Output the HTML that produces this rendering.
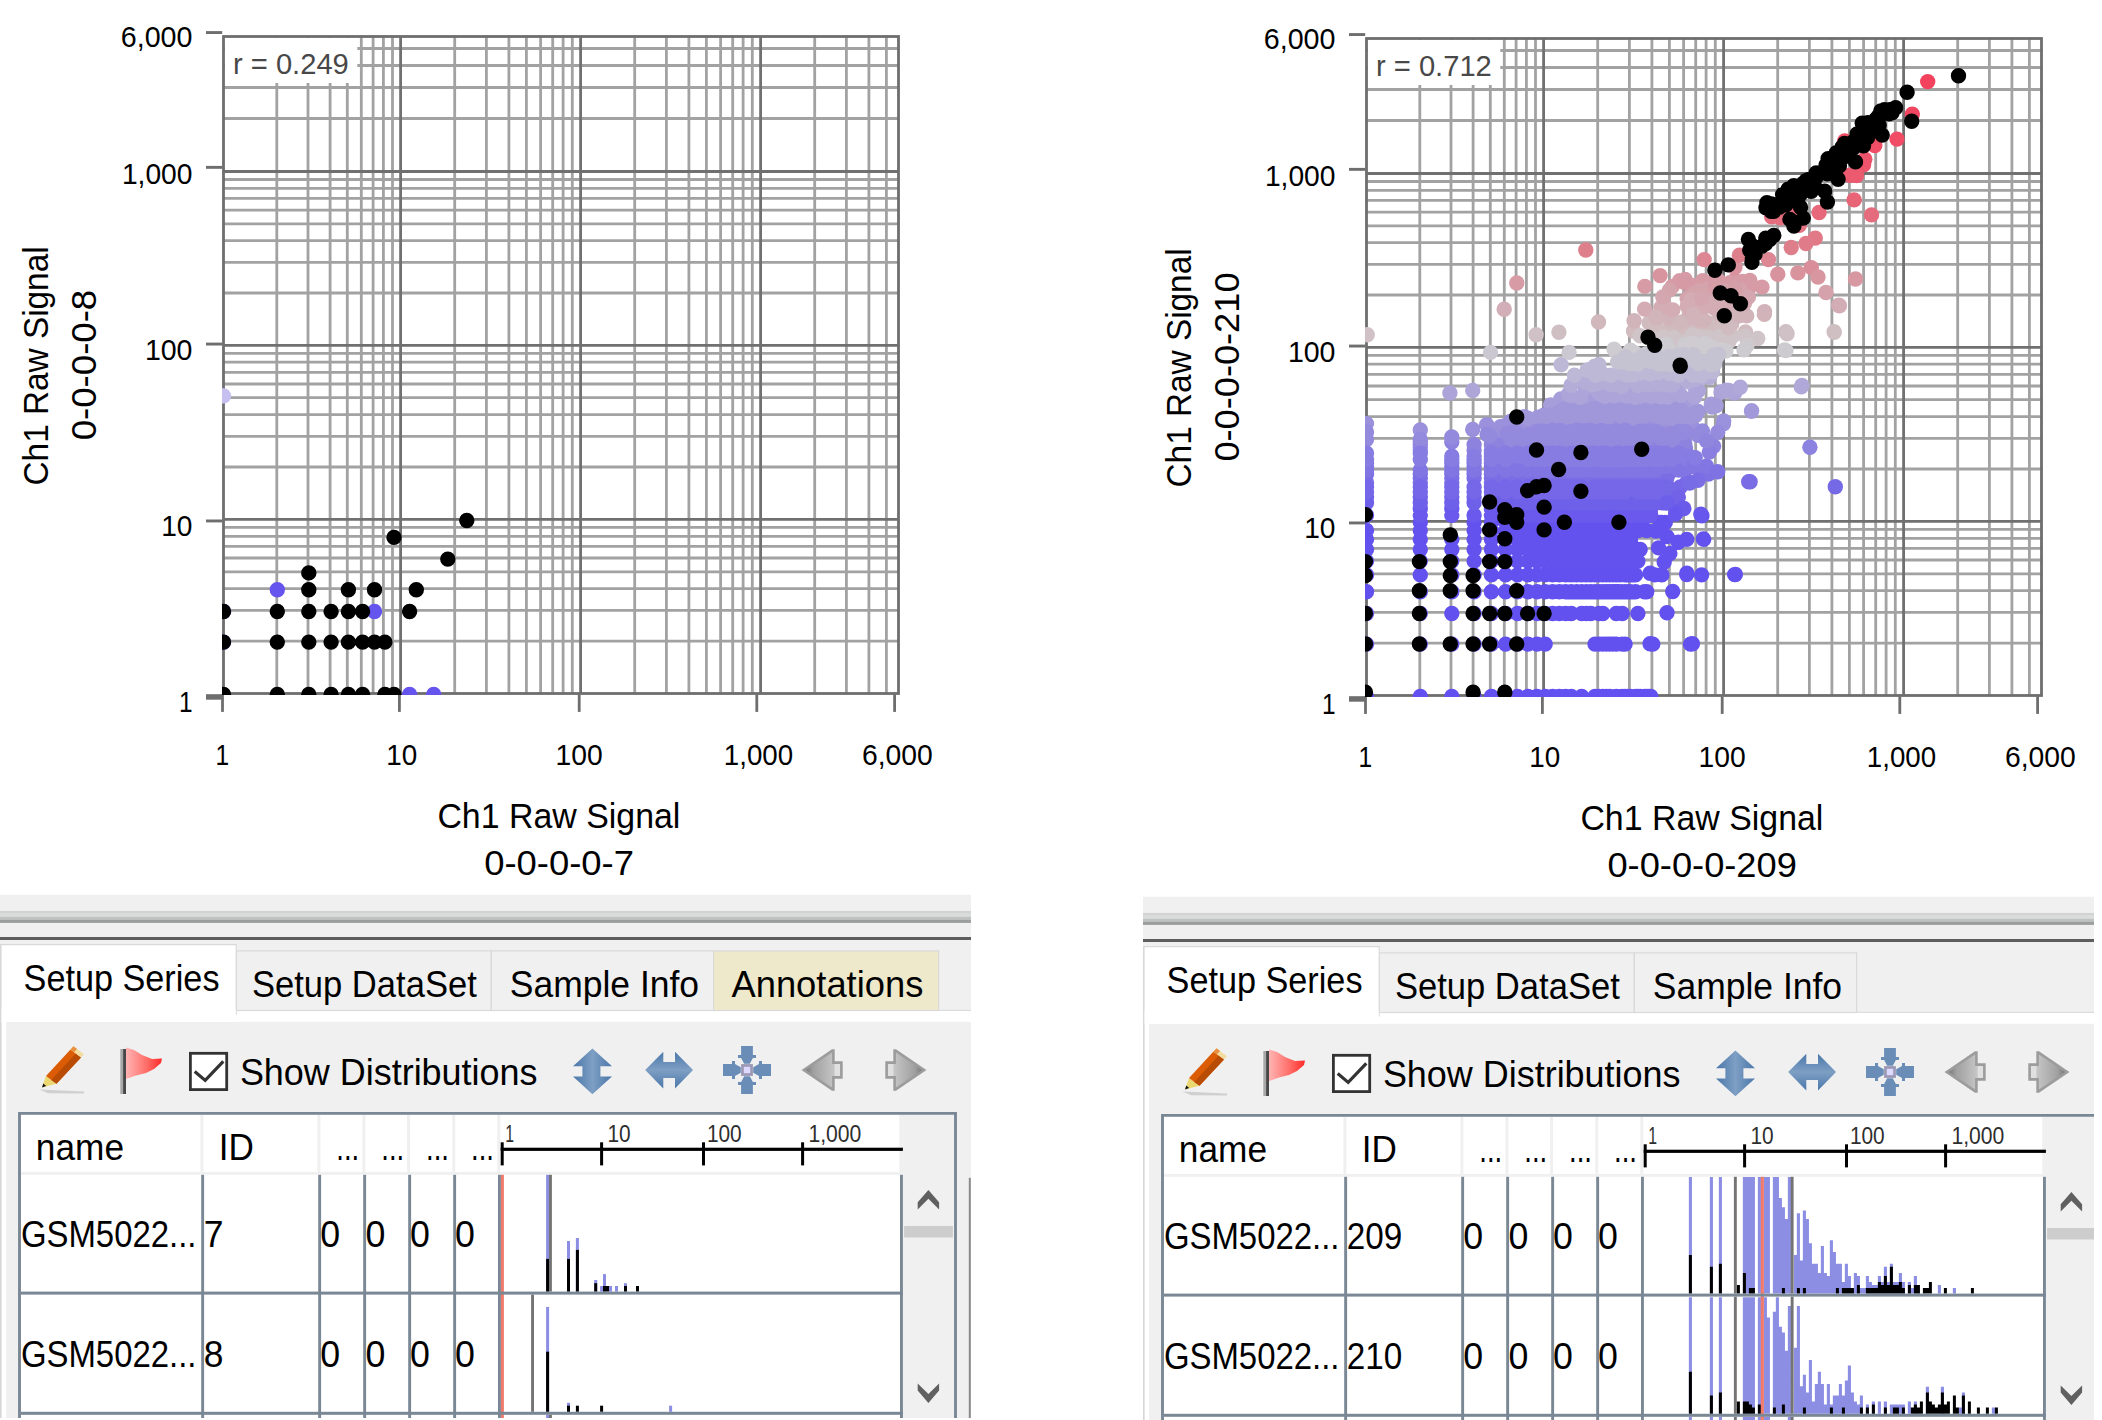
<!DOCTYPE html>
<html><head><meta charset="utf-8"><title>scatter</title>
<style>html,body{margin:0;padding:0;background:#fff}svg{display:block}text{font-family:"Liberation Sans",sans-serif}</style></head><body>
<svg width="2102" height="1420" viewBox="0 0 2102 1420">
<defs><clipPath id="pc"><rect x="222.1" y="35.1" width="677.8" height="659.8"/></clipPath><clipPath id="lc"><rect x="0" y="0" width="971" height="1418"/></clipPath><clipPath id="rc"><rect x="0" y="0" width="951" height="1418"/></clipPath></defs>
<rect x="0" y="0" width="2102" height="1420" fill="#fff"/>
<g clip-path="url(#lc)">
<path d="M276.8 36.5V693.5M223.5 641.1H898.5M308 36.5V693.5M223.5 610.4H898.5M330.1 36.5V693.5M223.5 588.7H898.5M347.3 36.5V693.5M223.5 571.8H898.5M361.3 36.5V693.5M223.5 558H898.5M373.1 36.5V693.5M223.5 546.4H898.5M383.4 36.5V693.5M223.5 536.3H898.5M392.5 36.5V693.5M223.5 527.4H898.5M454.7 36.5V693.5M223.5 467H898.5M486.4 36.5V693.5M223.5 436.4H898.5M508.9 36.5V693.5M223.5 414.6H898.5M526.4 36.5V693.5M223.5 397.7H898.5M540.6 36.5V693.5M223.5 384H898.5M552.7 36.5V693.5M223.5 372.3H898.5M563.1 36.5V693.5M223.5 362.2H898.5M572.3 36.5V693.5M223.5 353.3H898.5M634.7 36.5V693.5M223.5 293H898.5M666.4 36.5V693.5M223.5 262.4H898.5M688.9 36.5V693.5M223.5 240.7H898.5M706.4 36.5V693.5M223.5 223.8H898.5M720.6 36.5V693.5M223.5 210.1H898.5M732.7 36.5V693.5M223.5 198.4H898.5M743.1 36.5V693.5M223.5 188.3H898.5M752.3 36.5V693.5M223.5 179.5H898.5M814.7 36.5V693.5M223.5 118.5H898.5M846.4 36.5V693.5M223.5 87.5H898.5M868.9 36.5V693.5M223.5 65.5H898.5M886.4 36.5V693.5M223.5 48.5H898.5" stroke="#a2a2a2" stroke-width="2.8" fill="none"/>
<path d="M400.6 36.5V693.5M223.5 519.4H898.5M580.6 36.5V693.5M223.5 345.4H898.5M760.6 36.5V693.5M223.5 171.5H898.5" stroke="#707070" stroke-width="2.8" fill="none"/>
<rect x="225" y="38" width="132.3" height="45" fill="#fff"/>
<text x="233" y="73.8" font-size="29" text-anchor="start" fill="#484848" textLength="115.8" lengthAdjust="spacingAndGlyphs">r = 0.249</text>
<rect x="223.5" y="36.5" width="675" height="657" fill="none" stroke="#6e6e6e" stroke-width="2.8"/>
<rect x="206" y="31.1" width="16.2" height="2.9" fill="#6e6e6e"/>
<rect x="206" y="165.9" width="16.2" height="2.9" fill="#6e6e6e"/>
<rect x="206" y="342.6" width="16.2" height="2.9" fill="#6e6e6e"/>
<rect x="206" y="519.5" width="16.2" height="2.9" fill="#6e6e6e"/>
<rect x="206" y="694.2" width="16.2" height="5.5" fill="#6e6e6e"/>
<rect x="221.1" y="694.5" width="2.8" height="17.4" fill="#6e6e6e"/>
<rect x="398" y="694.5" width="2.8" height="17.4" fill="#6e6e6e"/>
<rect x="577.8" y="694.5" width="2.8" height="17.4" fill="#6e6e6e"/>
<rect x="755.4" y="694.5" width="2.8" height="17.4" fill="#6e6e6e"/>
<rect x="893.2" y="694.5" width="2.8" height="17.4" fill="#6e6e6e"/>
<text x="192.5" y="47.4" font-size="30" text-anchor="end" fill="#000" textLength="71.7" lengthAdjust="spacingAndGlyphs">6,000</text>
<text x="192.5" y="184" font-size="30" text-anchor="end" fill="#000" textLength="70.6" lengthAdjust="spacingAndGlyphs">1,000</text>
<text x="192.5" y="359.8" font-size="30" text-anchor="end" fill="#000" textLength="47.6" lengthAdjust="spacingAndGlyphs">100</text>
<text x="192.5" y="535.8" font-size="30" text-anchor="end" fill="#000" textLength="31.3" lengthAdjust="spacingAndGlyphs">10</text>
<text x="192.5" y="711.9" font-size="30" text-anchor="end" fill="#000" textLength="13.6" lengthAdjust="spacingAndGlyphs">1</text>
<text x="215.4" y="765.2" font-size="30" text-anchor="start" fill="#000" textLength="13.6" lengthAdjust="spacingAndGlyphs">1</text>
<text x="386.2" y="765.2" font-size="30" text-anchor="start" fill="#000" textLength="31" lengthAdjust="spacingAndGlyphs">10</text>
<text x="555.6" y="765.2" font-size="30" text-anchor="start" fill="#000" textLength="47.2" lengthAdjust="spacingAndGlyphs">100</text>
<text x="723.8" y="765.2" font-size="30" text-anchor="start" fill="#000" textLength="69.3" lengthAdjust="spacingAndGlyphs">1,000</text>
<text x="862" y="765.2" font-size="30" text-anchor="start" fill="#000" textLength="70.8" lengthAdjust="spacingAndGlyphs">6,000</text>
<text x="437.4" y="827.7" font-size="35.5" text-anchor="start" fill="#000" textLength="243" lengthAdjust="spacingAndGlyphs">Ch1 Raw Signal</text>
<text x="484.2" y="875.2" font-size="35.5" text-anchor="start" fill="#000" textLength="149.8" lengthAdjust="spacingAndGlyphs">0-0-0-0-7</text>
<g transform="translate(47.5 365.8) rotate(-90)"><text x="-119.7" y="0" font-size="35.5" text-anchor="start" fill="#000" textLength="239.1" lengthAdjust="spacingAndGlyphs">Ch1 Raw Signal</text></g>
<g transform="translate(95.8 364.9) rotate(-90)"><text x="-75.4" y="0" font-size="35.5" text-anchor="start" fill="#000" textLength="150.5" lengthAdjust="spacingAndGlyphs">0-0-0-0-8</text></g>
<g clip-path="url(#pc)"><g fill="none" stroke-linecap="round" stroke-width="15.4"><path d="M223.5 395.9h0" stroke="#c6c0f0"/><path d="M277.3 589.7h0M374.5 611.5h0M409.6 694.5h0M433.7 694.5h0M223.5 642.1h0M223.5 611.5h0" stroke="#6654ee"/><path d="M223.5 694.5h0M277.3 694.5h0M308.8 694.5h0M331.1 694.5h0M348.4 694.5h0M362.6 694.5h0M384.9 694.5h0M394 694.5h0M223.5 642.1h0M277.3 642.1h0M308.8 642.1h0M331.1 642.1h0M348.4 642.1h0M362.6 642.1h0M374.5 642.1h0M384.9 642.1h0M223.5 611.5h0M277.3 611.5h0M308.8 611.5h0M331.1 611.5h0M348.4 611.5h0M362.6 611.5h0M409.6 611.5h0M308.8 589.7h0M348.4 589.7h0M374.5 589.7h0M416.3 589.7h0M308.8 572.9h0M394 537.4h0M447.8 559.1h0M466.8 520.5h0" stroke="#000"/></g></g>
<rect x="0" y="894.7" width="971" height="525.3" fill="#f0f0f0"/>
<rect x="0" y="910.9" width="971" height="2.8" fill="#d2d2d2"/>
<rect x="0" y="913.6" width="971" height="3.4" fill="#dadcdc"/>
<rect x="0" y="916.9" width="971" height="3" fill="#c0c2c2"/>
<rect x="0" y="919.8" width="971" height="3.1" fill="#9c9e9e"/>
<rect x="0" y="937" width="971" height="3" fill="#5e5e5e"/>
<rect x="0" y="1010.5" width="971" height="11.3" fill="#fff"/>
<rect x="0" y="1010.5" width="6.1" height="409.5" fill="#fff"/>
<rect x="0" y="944.2" width="1.6" height="475.8" fill="#d6d6d6"/>
<rect x="236.2" y="1009.8" width="734.8" height="1.1" fill="#d9d9d9"/>
<rect x="236.2" y="950.9" width="255.1" height="59.6" fill="#f0f0f0" stroke="#d9d9d9" stroke-width="1.2"/>
<text x="251.9" y="997.4" font-size="36" text-anchor="start" fill="#000" textLength="224.9" lengthAdjust="spacingAndGlyphs">Setup DataSet</text>
<rect x="491.3" y="950.9" width="222.3" height="59.6" fill="#f0f0f0" stroke="#d9d9d9" stroke-width="1.2"/>
<text x="509.8" y="997.4" font-size="36" text-anchor="start" fill="#000" textLength="189.3" lengthAdjust="spacingAndGlyphs">Sample Info</text>
<rect x="713.6" y="950.9" width="225.1" height="59.6" fill="#efe9cb" stroke="#d9d9d9" stroke-width="1.2"/>
<text x="731.5" y="997.4" font-size="36" text-anchor="start" fill="#000" textLength="191.8" lengthAdjust="spacingAndGlyphs">Annotations</text>
<path d="M1 1022V944.6H236.2V1014.5" fill="#fff" stroke="#d9d9d9" stroke-width="1.2"/>
<rect x="1.6" y="1009" width="234" height="13" fill="#fff"/>
<text x="23.6" y="991.3" font-size="36" text-anchor="start" fill="#000" textLength="195.9" lengthAdjust="spacingAndGlyphs">Setup Series</text>
<rect x="968.8" y="1177.8" width="2" height="242.2" fill="#8a8a8a"/>
<g><path d="M39.5 1089.5L84 1091.5L84 1093.5L48 1093.2Z" fill="#c8c8c8" opacity=".8"/><path d="M42 1087.5L46 1076L56.5 1083.8Z" fill="#ecd870"/><path d="M42 1087.5L43.3 1083.6L46.2 1086Z" fill="#111"/><path d="M46 1076L70.5 1049.5L81 1057.5L56.5 1083.8Z" fill="#dc5c06"/><path d="M51.2 1080L75.8 1053.5L81 1057.5L56.5 1083.8Z" fill="#b84c04"/><path d="M70.5 1049.5L73.5 1046.2L84 1054.2L81 1057.5Z" fill="#f2dca0"/><path d="M70.5 1049.5L73.5 1046.2L77 1048.9L74 1052.2Z" fill="#e89040"/></g>
<defs><linearGradient id="fg" x1="0" x2="1" y1="0" y2="0"><stop offset="0" stop-color="#ffb4b4"/><stop offset=".6" stop-color="#ff6a64"/><stop offset="1" stop-color="#fb2a2a"/></linearGradient></defs>
<rect x="120.3" y="1049" width="2.8" height="45" fill="#a8a8a8"/>
<rect x="123.1" y="1049" width="2.9" height="45" fill="#484848"/>
<path d="M126 1047.5L134 1050L142 1055L152 1059L162 1058.5L161 1063L154 1069L146 1073L136 1075.5L126 1079Z" fill="url(#fg)"/>
<rect x="190.4" y="1053.3" width="36.3" height="36.3" fill="#fff" stroke="#333" stroke-width="2.8"/>
<path d="M194.7 1071.5L205.2 1080.4L223.3 1061.4" fill="none" stroke="#333" stroke-width="3.2"/>
<text x="239.9" y="1085.2" font-size="37" text-anchor="start" fill="#000" textLength="297.6" lengthAdjust="spacingAndGlyphs">Show Distributions</text>
<defs><linearGradient id="bg1" x1="0" x2="1" y1="0" y2="0"><stop offset="0" stop-color="#4a77aa"/><stop offset=".5" stop-color="#7e9fc4"/><stop offset="1" stop-color="#4a77aa"/></linearGradient><linearGradient id="bg2" x1="0" x2="0" y1="0" y2="1"><stop offset="0" stop-color="#4a77aa"/><stop offset=".5" stop-color="#7e9fc4"/><stop offset="1" stop-color="#4a77aa"/></linearGradient><linearGradient id="gl" x1="0" x2="1" y1="0" y2="0"><stop offset="0" stop-color="#6c6c6c"/><stop offset=".25" stop-color="#a0a0a0"/><stop offset="1" stop-color="#d2d2d2"/></linearGradient><linearGradient id="gr" x1="1" x2="0" y1="0" y2="0"><stop offset="0" stop-color="#6c6c6c"/><stop offset=".25" stop-color="#a0a0a0"/><stop offset="1" stop-color="#d2d2d2"/></linearGradient></defs>
<path d="M592.4 1048.6L612 1066.2L600.4 1066.2L600.4 1076.6L612 1076.6L592.4 1094.2L573 1076.6L582.4 1076.6L582.4 1066.2L573 1066.2Z" fill="url(#bg1)"/>
<path d="M645.2 1070.1L663.3 1051.8L663.3 1062L675 1062L675 1051.8L693 1070.1L675 1088.4L675 1078L663.3 1078L663.3 1088.4Z" fill="url(#bg2)"/>
<path d="M-5.9 -24L5.9 -24L5.9 -15L9 -15L9 -12L5.9 -12L2.8 -6.2L-2.8 -6.2L-5.9 -12L-9 -12L-9 -15L-5.9 -15Z" transform="translate(747 1070) rotate(0)" fill="#6a8db8"/>
<path d="M-5.9 -24L5.9 -24L5.9 -15L9 -15L9 -12L5.9 -12L2.8 -6.2L-2.8 -6.2L-5.9 -12L-9 -12L-9 -15L-5.9 -15Z" transform="translate(747 1070) rotate(90)" fill="#6a8db8"/>
<path d="M-5.9 -24L5.9 -24L5.9 -15L9 -15L9 -12L5.9 -12L2.8 -6.2L-2.8 -6.2L-5.9 -12L-9 -12L-9 -15L-5.9 -15Z" transform="translate(747 1070) rotate(180)" fill="#6a8db8"/>
<path d="M-5.9 -24L5.9 -24L5.9 -15L9 -15L9 -12L5.9 -12L2.8 -6.2L-2.8 -6.2L-5.9 -12L-9 -12L-9 -15L-5.9 -15Z" transform="translate(747 1070) rotate(270)" fill="#6a8db8"/>
<rect x="741.1" y="1064.1" width="11.8" height="11.8" fill="#9c98b4"/>
<rect x="743.8" y="1066.8" width="6.4" height="6.4" fill="#dedaff"/>
<path d="M803.8 1070L832.4 1050.6L833.4 1050.6L833.4 1062.6L841.4 1062.6L841.4 1077.4L833.4 1077.4L833.4 1089.4L832.4 1089.4Z" fill="url(#gl)" stroke="#9c9c9c" stroke-width="2.6" stroke-linejoin="miter"/>
<rect x="834.6" y="1064" width="5.4" height="12" fill="#e0e0e0"/>
<path d="M924.2 1070L895.6 1050.6L894.6 1050.6L894.6 1062.6L886.6 1062.6L886.6 1077.4L894.6 1077.4L894.6 1089.4L895.6 1089.4Z" fill="url(#gr)" stroke="#9c9c9c" stroke-width="2.6" stroke-linejoin="miter"/>
<rect x="888" y="1064" width="5.4" height="12" fill="#e0e0e0"/>
<rect x="21" y="1114.7" width="878.3" height="57.2" fill="#fff"/>
<rect x="21" y="1174.8" width="881.9" height="245.2" fill="#fff"/>
<rect x="200.4" y="1114.7" width="3" height="57.2" fill="#f0f0f0"/>
<rect x="317.4" y="1114.7" width="3" height="57.2" fill="#f0f0f0"/>
<rect x="362.4" y="1114.7" width="3" height="57.2" fill="#f0f0f0"/>
<rect x="407.1" y="1114.7" width="3" height="57.2" fill="#f0f0f0"/>
<rect x="452.3" y="1114.7" width="3" height="57.2" fill="#f0f0f0"/>
<rect x="497.3" y="1114.7" width="3" height="57.2" fill="#f0f0f0"/>
<rect x="546.1" y="1174.8" width="3" height="116.8" fill="#8c8ee4"/><rect x="546.1" y="1258.9" width="3" height="32.7" fill="#000"/><rect x="567" y="1241" width="3" height="50.6" fill="#8c8ee4"/><rect x="567" y="1258.9" width="3" height="32.7" fill="#000"/><rect x="575.9" y="1238" width="3" height="53.6" fill="#8c8ee4"/><rect x="575.9" y="1249.9" width="3" height="41.7" fill="#000"/><rect x="594.2" y="1280" width="3" height="11.6" fill="#8c8ee4"/><rect x="594.2" y="1283.2" width="3" height="8.4" fill="#000"/><rect x="600.1" y="1286" width="3" height="5.6" fill="#8c8ee4"/><rect x="603" y="1274.1" width="3" height="17.5" fill="#8c8ee4"/><rect x="603" y="1286" width="3" height="5.6" fill="#000"/><rect x="606" y="1286" width="3" height="5.6" fill="#000"/><rect x="609" y="1286" width="3" height="5.6" fill="#8c8ee4"/><rect x="615" y="1286" width="3" height="5.6" fill="#8c8ee4"/><rect x="624" y="1283.2" width="3" height="8.4" fill="#8c8ee4"/><rect x="624" y="1286" width="3" height="5.6" fill="#000"/><rect x="636" y="1286" width="3" height="5.6" fill="#000"/><rect x="549" y="1174.8" width="2.9" height="116.8" fill="#747474"/><rect x="546.1" y="1306.9" width="3" height="104.9" fill="#8c8ee4"/><rect x="546.1" y="1351.7" width="3" height="60.1" fill="#000"/><rect x="567" y="1402.8" width="3" height="9" fill="#8c8ee4"/><rect x="567" y="1405.7" width="3" height="6.1" fill="#000"/><rect x="575.9" y="1405.7" width="3" height="6.1" fill="#000"/><rect x="600.1" y="1405.7" width="3" height="6.1" fill="#000"/><rect x="669.1" y="1405.7" width="3" height="6.1" fill="#8c8ee4"/><rect x="531.1" y="1294.6" width="2.9" height="117.2" fill="#747474"/><rect x="546.1" y="1414.8" width="3" height="5.2" fill="#8c8ee4"/><rect x="549" y="1414.8" width="2.9" height="5.2" fill="#747474"/>
<rect x="500.8" y="1174.8" width="3.1" height="245.2" fill="#f07a6c"/>
<rect x="201.2" y="1174.8" width="2.9" height="245.2" fill="#7a8795"/>
<rect x="318.2" y="1174.8" width="2.9" height="245.2" fill="#7a8795"/>
<rect x="363.2" y="1174.8" width="2.9" height="245.2" fill="#7a8795"/>
<rect x="408.2" y="1174.8" width="2.9" height="245.2" fill="#7a8795"/>
<rect x="453.2" y="1174.8" width="2.9" height="245.2" fill="#7a8795"/>
<rect x="498" y="1174.8" width="2.9" height="245.2" fill="#7a8795"/>
<rect x="900" y="1174.8" width="2.9" height="245.2" fill="#7a8795"/>
<rect x="21" y="1291.6" width="881.9" height="3" fill="#7a8795"/>
<rect x="21" y="1411.8" width="881.9" height="3" fill="#7a8795"/>
<path d="M19.5 1420V1113.4H955.5V1420" fill="none" stroke="#7a8795" stroke-width="2.9"/>
<text x="35.8" y="1160" font-size="36" text-anchor="start" fill="#000" textLength="88.2" lengthAdjust="spacingAndGlyphs">name</text>
<text x="218.8" y="1160" font-size="36" text-anchor="start" fill="#000" textLength="35.1" lengthAdjust="spacingAndGlyphs">ID</text>
<text x="336.3" y="1160" font-size="36" text-anchor="start" fill="#000" textLength="22.9" lengthAdjust="spacingAndGlyphs">...</text>
<text x="381.3" y="1160" font-size="36" text-anchor="start" fill="#000" textLength="22.9" lengthAdjust="spacingAndGlyphs">...</text>
<text x="426.1" y="1160" font-size="36" text-anchor="start" fill="#000" textLength="22.9" lengthAdjust="spacingAndGlyphs">...</text>
<text x="471.1" y="1160" font-size="36" text-anchor="start" fill="#000" textLength="22.9" lengthAdjust="spacingAndGlyphs">...</text>
<rect x="500.7" y="1147.7" width="402.2" height="3.2" fill="#000"/>
<rect x="500.7" y="1142.3" width="3" height="23.1" fill="#000"/>
<rect x="600.1" y="1142.3" width="3" height="23.1" fill="#000"/>
<rect x="702" y="1142.3" width="3" height="23.1" fill="#000"/>
<rect x="801.1" y="1142.3" width="3" height="23.1" fill="#000"/>
<text x="505.2" y="1141.7" font-size="24" text-anchor="start" fill="#2e2e2e" textLength="8.8" lengthAdjust="spacingAndGlyphs">1</text>
<text x="607.4" y="1141.7" font-size="24" text-anchor="start" fill="#2e2e2e" textLength="23.2" lengthAdjust="spacingAndGlyphs">10</text>
<text x="706.9" y="1141.7" font-size="24" text-anchor="start" fill="#2e2e2e" textLength="34.8" lengthAdjust="spacingAndGlyphs">100</text>
<text x="808.4" y="1141.7" font-size="24" text-anchor="start" fill="#2e2e2e" textLength="52.9" lengthAdjust="spacingAndGlyphs">1,000</text>
<text x="20.9" y="1247.3" font-size="36" text-anchor="start" fill="#000" textLength="175.6" lengthAdjust="spacingAndGlyphs">GSM5022...</text>
<text x="203.8" y="1247.3" font-size="36" text-anchor="start" fill="#000" textLength="19.7" lengthAdjust="spacingAndGlyphs">7</text>
<text x="320.2" y="1247.3" font-size="36" text-anchor="start" fill="#000" textLength="19.9" lengthAdjust="spacingAndGlyphs">0</text>
<text x="365.5" y="1247.3" font-size="36" text-anchor="start" fill="#000" textLength="19.9" lengthAdjust="spacingAndGlyphs">0</text>
<text x="410" y="1247.3" font-size="36" text-anchor="start" fill="#000" textLength="19.9" lengthAdjust="spacingAndGlyphs">0</text>
<text x="455.1" y="1247.3" font-size="36" text-anchor="start" fill="#000" textLength="19.9" lengthAdjust="spacingAndGlyphs">0</text>
<text x="20.9" y="1367.4" font-size="36" text-anchor="start" fill="#000" textLength="175.6" lengthAdjust="spacingAndGlyphs">GSM5022...</text>
<text x="203.8" y="1367.4" font-size="36" text-anchor="start" fill="#000" textLength="19.7" lengthAdjust="spacingAndGlyphs">8</text>
<text x="320.2" y="1367.4" font-size="36" text-anchor="start" fill="#000" textLength="19.9" lengthAdjust="spacingAndGlyphs">0</text>
<text x="365.5" y="1367.4" font-size="36" text-anchor="start" fill="#000" textLength="19.9" lengthAdjust="spacingAndGlyphs">0</text>
<text x="410" y="1367.4" font-size="36" text-anchor="start" fill="#000" textLength="19.9" lengthAdjust="spacingAndGlyphs">0</text>
<text x="455.1" y="1367.4" font-size="36" text-anchor="start" fill="#000" textLength="19.9" lengthAdjust="spacingAndGlyphs">0</text>
<path d="M917.7 1209.4V1202.3L928.4 1189.9L939.1 1202.3V1209.4L928.4 1198.7Z" fill="#606060"/>
<rect x="904.1" y="1226" width="48.8" height="11.5" fill="#cdcdcd"/>
<path d="M917.7 1383.5V1390.6L928.4 1402.9L939.1 1390.6V1383.5L928.4 1394.1Z" fill="#606060"/>
</g>
<g transform="translate(1143 2)"><g clip-path="url(#rc)">
<path d="M276.8 36.5V693.5M223.5 641.1H898.5M308 36.5V693.5M223.5 610.4H898.5M330.1 36.5V693.5M223.5 588.7H898.5M347.3 36.5V693.5M223.5 571.8H898.5M361.3 36.5V693.5M223.5 558H898.5M373.1 36.5V693.5M223.5 546.4H898.5M383.4 36.5V693.5M223.5 536.3H898.5M392.5 36.5V693.5M223.5 527.4H898.5M454.7 36.5V693.5M223.5 467H898.5M486.4 36.5V693.5M223.5 436.4H898.5M508.9 36.5V693.5M223.5 414.6H898.5M526.4 36.5V693.5M223.5 397.7H898.5M540.6 36.5V693.5M223.5 384H898.5M552.7 36.5V693.5M223.5 372.3H898.5M563.1 36.5V693.5M223.5 362.2H898.5M572.3 36.5V693.5M223.5 353.3H898.5M634.7 36.5V693.5M223.5 293H898.5M666.4 36.5V693.5M223.5 262.4H898.5M688.9 36.5V693.5M223.5 240.7H898.5M706.4 36.5V693.5M223.5 223.8H898.5M720.6 36.5V693.5M223.5 210.1H898.5M732.7 36.5V693.5M223.5 198.4H898.5M743.1 36.5V693.5M223.5 188.3H898.5M752.3 36.5V693.5M223.5 179.5H898.5M814.7 36.5V693.5M223.5 118.5H898.5M846.4 36.5V693.5M223.5 87.5H898.5M868.9 36.5V693.5M223.5 65.5H898.5M886.4 36.5V693.5M223.5 48.5H898.5" stroke="#a2a2a2" stroke-width="2.8" fill="none"/>
<path d="M400.6 36.5V693.5M223.5 519.4H898.5M580.6 36.5V693.5M223.5 345.4H898.5M760.6 36.5V693.5M223.5 171.5H898.5" stroke="#707070" stroke-width="2.8" fill="none"/>
<rect x="225" y="38" width="132.3" height="45" fill="#fff"/>
<text x="233" y="73.8" font-size="29" text-anchor="start" fill="#484848" textLength="115.8" lengthAdjust="spacingAndGlyphs">r = 0.712</text>
<rect x="223.5" y="36.5" width="675" height="657" fill="none" stroke="#6e6e6e" stroke-width="2.8"/>
<rect x="206" y="31.1" width="16.2" height="2.9" fill="#6e6e6e"/>
<rect x="206" y="165.9" width="16.2" height="2.9" fill="#6e6e6e"/>
<rect x="206" y="342.6" width="16.2" height="2.9" fill="#6e6e6e"/>
<rect x="206" y="519.5" width="16.2" height="2.9" fill="#6e6e6e"/>
<rect x="206" y="694.2" width="16.2" height="5.5" fill="#6e6e6e"/>
<rect x="221.1" y="694.5" width="2.8" height="17.4" fill="#6e6e6e"/>
<rect x="398" y="694.5" width="2.8" height="17.4" fill="#6e6e6e"/>
<rect x="577.8" y="694.5" width="2.8" height="17.4" fill="#6e6e6e"/>
<rect x="755.4" y="694.5" width="2.8" height="17.4" fill="#6e6e6e"/>
<rect x="893.2" y="694.5" width="2.8" height="17.4" fill="#6e6e6e"/>
<text x="192.5" y="47.4" font-size="30" text-anchor="end" fill="#000" textLength="71.7" lengthAdjust="spacingAndGlyphs">6,000</text>
<text x="192.5" y="184" font-size="30" text-anchor="end" fill="#000" textLength="70.6" lengthAdjust="spacingAndGlyphs">1,000</text>
<text x="192.5" y="359.8" font-size="30" text-anchor="end" fill="#000" textLength="47.6" lengthAdjust="spacingAndGlyphs">100</text>
<text x="192.5" y="535.8" font-size="30" text-anchor="end" fill="#000" textLength="31.3" lengthAdjust="spacingAndGlyphs">10</text>
<text x="192.5" y="711.9" font-size="30" text-anchor="end" fill="#000" textLength="13.6" lengthAdjust="spacingAndGlyphs">1</text>
<text x="215.4" y="765.2" font-size="30" text-anchor="start" fill="#000" textLength="13.6" lengthAdjust="spacingAndGlyphs">1</text>
<text x="386.2" y="765.2" font-size="30" text-anchor="start" fill="#000" textLength="31" lengthAdjust="spacingAndGlyphs">10</text>
<text x="555.6" y="765.2" font-size="30" text-anchor="start" fill="#000" textLength="47.2" lengthAdjust="spacingAndGlyphs">100</text>
<text x="723.8" y="765.2" font-size="30" text-anchor="start" fill="#000" textLength="69.3" lengthAdjust="spacingAndGlyphs">1,000</text>
<text x="862" y="765.2" font-size="30" text-anchor="start" fill="#000" textLength="70.8" lengthAdjust="spacingAndGlyphs">6,000</text>
<text x="437.4" y="827.7" font-size="35.5" text-anchor="start" fill="#000" textLength="243" lengthAdjust="spacingAndGlyphs">Ch1 Raw Signal</text>
<text x="464.4" y="875.2" font-size="35.5" text-anchor="start" fill="#000" textLength="189.5" lengthAdjust="spacingAndGlyphs">0-0-0-0-209</text>
<g transform="translate(47.5 365.8) rotate(-90)"><text x="-119.7" y="0" font-size="35.5" text-anchor="start" fill="#000" textLength="239.1" lengthAdjust="spacingAndGlyphs">Ch1 Raw Signal</text></g>
<g transform="translate(95.8 364.9) rotate(-90)"><text x="-94.7" y="0" font-size="35.5" text-anchor="start" fill="#000" textLength="189.1" lengthAdjust="spacingAndGlyphs">0-0-0-0-210</text></g>
<g clip-path="url(#pc)"><g fill="none" stroke-linecap="round" stroke-width="15.4"><path d="M507.8 445.4h0M480 440.8h0M479.3 442.7h0M520.6 439.7h0M452 448.3h0M416.3 448.3h0M484.8 448.3h0M511.7 445.4h0M428.3 448.3h0M441.2 440.5h0M447.8 448.3h0M494.9 448.3h0M438.7 448.3h0M452 445.4h0M466.4 439.4h0M463.4 448.3h0M402.2 445.4h0M422.7 442h0M374.5 445.4h0M459.8 445.4h0M348.4 448.3h0M487.5 445.4h0M465.9 440.8h0M447.8 448.3h0M382.4 440.8h0M476.4 442.7h0M348.4 448.3h0M452 445.4h0M374.5 448.3h0M362.6 448.3h0M452 442.7h0M355.9 440.7h0M416.3 448.3h0M509.4 439h0M422.6 442.7h0M541.7 441.1h0M389.4 439.6h0M402.2 442.7h0M402.2 445.4h0M476.4 448.3h0M490.1 439.5h0M515.4 442.7h0M364.8 439.2h0M433.7 445.4h0M402.2 445.4h0M433.7 445.4h0M443.4 448.3h0M466.8 448.3h0M362.6 448.3h0M394 445.4h0M466.8 448.3h0M479.3 442.7h0M542.5 445.4h0M433.7 448.3h0M413.1 441.2h0M456 442.7h0M443.4 448.3h0M459.8 445.4h0M392.1 442h0M436.5 441.2h0M459.8 448.3h0M402.2 448.3h0M384.9 448.3h0M433.4 440.2h0M433.5 440.3h0M456 442.7h0M492.3 439.5h0M422.6 445.4h0M428.3 445.4h0M466.8 445.4h0M503.7 445.4h0M499.4 442.7h0M433.7 445.4h0M487.5 448.3h0M486.6 442h0M433.7 442.7h0M433.7 448.3h0M513.6 442.7h0M513.6 445.4h0M394 445.4h0M482.1 442.7h0M438.7 445.4h0M348.4 442.7h0M416.3 442.7h0M409.5 441.8h0M525.8 440.2h0M420.4 441.8h0M456 442.7h0M437.3 439.5h0M518.9 442.7h0M428.3 445.4h0M452 442.7h0M384.9 448.3h0M463.4 442.7h0M456 442.7h0M433.7 445.4h0M432.2 440.1h0M384.9 445.4h0M409.6 448.3h0M470.1 445.4h0M497.2 445.4h0M487.5 448.3h0M516.1 441.5h0M384.9 445.4h0M416.3 442.7h0M348.4 448.3h0M455.8 441.4h0M484.8 445.4h0M433.3 442h0M406.3 439.8h0M420.7 440.7h0M421 441h0M447.8 442.7h0M459.8 445.4h0M459.8 448.3h0M394 442.7h0M362.6 445.4h0M513.6 440h0M478.1 439.6h0M463.4 442.7h0M479.3 442.7h0M447.8 448.3h0M374.5 442.7h0M397.6 439.9h0M388.6 440.6h0M482.1 442.7h0M470.1 442.7h0M384.2 439.2h0M428.3 445.4h0M503.6 439.9h0M501.6 445.4h0M362.6 445.4h0M518.9 445.4h0M422.6 448.3h0M497.2 448.3h0M427.5 439.5h0M413.9 441.4h0M488.4 440h0M374.5 442.7h0M438.7 448.3h0M523.9 448.3h0M380.1 439.8h0M490 445.4h0M471.7 439.3h0M428.3 445.4h0M527.1 445.4h0M416.3 448.3h0M513.6 448.3h0M384.9 448.3h0M468.6 441.5h0M508.7 440.6h0M511.7 442.7h0M487.5 442.7h0M416.3 445.4h0M372.2 441.4h0M438.7 442.7h0M503.6 441.1h0M463.4 445.4h0M421.7 442.1h0M447.8 445.4h0M463.4 442.7h0M417.6 442.2h0M501.6 448.3h0M456 442.7h0M398.2 440.9h0M374.5 445.4h0M409.6 445.4h0M422.6 445.4h0M503.7 445.4h0M362.6 445.4h0M528.6 445.4h0M454.1 439.7h0M438.7 442.7h0M409.8 439.1h0M362.6 445.4h0M473.3 445.4h0M428.3 445.4h0M432.7 442.1h0M452 445.4h0M478.4 442h0M466.5 441.2h0M492.5 448.3h0M384.9 445.4h0M371.8 440.5h0M384.9 448.3h0M428.3 445.4h0M448.4 439.3h0M479.3 448.3h0M277.3 445.4h0M331.1 442.7h0M277.3 442.7h0M277.3 440h0M277.3 442.7h0M331.1 448.3h0M277.3 442.7h0M348.4 448.3h0M277.3 448.3h0M277.3 440h0M331.1 448.3h0M277.3 442.7h0M308.8 440h0" stroke="#8d83df"/><path d="M416.3 547.5h0M447.8 528.5h0M484.8 528.5h0M374.5 547.5h0M476.4 537.4h0M466.8 559.1h0M428.3 528.5h0M362.6 559.1h0M470.1 547.5h0M416.3 547.5h0M416.3 520.5h0M466.8 559.1h0M409.6 528.5h0M394 528.5h0M428.3 559.1h0M422.6 559.1h0M438.7 559.1h0M479.3 547.5h0M402.2 520.5h0M479.3 547.5h0M494.9 528.5h0M394 537.4h0M443.4 559.1h0M456 547.5h0M362.6 520.5h0M422.6 528.5h0M422.6 537.4h0M402.2 559.1h0M422.6 559.1h0M416.3 559.1h0M470.1 537.4h0M443.4 547.5h0M416.3 559.1h0M409.6 537.4h0M438.7 537.4h0M422.6 528.5h0M452 520.5h0M476.4 520.5h0M384.9 547.5h0M422.6 537.4h0M438.7 537.4h0M459.8 528.5h0M422.6 537.4h0M422.6 537.4h0M384.9 520.5h0M456 520.5h0M374.5 559.1h0M473.3 559.1h0M384.9 520.5h0M438.7 520.5h0M459.8 547.5h0M384.9 547.5h0M459.8 547.5h0M438.7 520.5h0M394 528.5h0M402.2 547.5h0M438.7 559.1h0M384.9 547.5h0M443.4 559.1h0M422.6 547.5h0M422.6 547.5h0M479.3 537.4h0M433.7 537.4h0M416.3 528.5h0M447.8 559.1h0M409.6 537.4h0M374.5 559.1h0M473.3 547.5h0M438.7 559.1h0M348.4 537.4h0M433.7 528.5h0M374.5 520.5h0M428.3 528.5h0M447.8 559.1h0M438.7 528.5h0M433.7 547.5h0M443.4 547.5h0M402.2 559.1h0M416.3 559.1h0M384.9 537.4h0M433.7 528.5h0M374.5 547.5h0M348.4 559.1h0M409.6 537.4h0M428.3 528.5h0M452 537.4h0M374.5 559.1h0M384.9 528.5h0M374.5 537.4h0M487.5 537.4h0M374.5 559.1h0M463.4 520.5h0M466.8 559.1h0M473.3 559.1h0M374.5 559.1h0M402.2 528.5h0M466.8 520.5h0M374.5 559.1h0M374.5 520.5h0M422.6 520.5h0M463.4 547.5h0M416.3 528.5h0M374.5 559.1h0M402.2 537.4h0M428.3 528.5h0M422.6 528.5h0M402.2 559.1h0M494.9 559.1h0M490 528.5h0M422.6 520.5h0M459.8 528.5h0M452 520.5h0M492.5 559.1h0M422.6 528.5h0M487.5 528.5h0M416.3 528.5h0M416.3 559.1h0M443.4 547.5h0M409.6 520.5h0M456 520.5h0M348.4 528.5h0M402.2 559.1h0M409.6 547.5h0M394 547.5h0M422.6 528.5h0M384.9 547.5h0M409.6 547.5h0M402.2 537.4h0M476.4 547.5h0M384.9 537.4h0M394 520.5h0M459.8 520.5h0M409.6 559.1h0M463.4 537.4h0M484.8 537.4h0M438.7 547.5h0M487.5 520.5h0M384.9 537.4h0M362.6 520.5h0M362.6 537.4h0M482.1 537.4h0M384.9 528.5h0M433.7 528.5h0M402.2 520.5h0M428.3 559.1h0M463.4 547.5h0M331.1 528.5h0M422.6 528.5h0M402.2 537.4h0M428.3 520.5h0M463.4 547.5h0M416.3 520.5h0M452 528.5h0M331.1 547.5h0M422.6 547.5h0M394 547.5h0M443.4 559.1h0M459.8 547.5h0M459.8 547.5h0M422.6 528.5h0M402.2 547.5h0M447.8 528.5h0M490 528.5h0M409.6 547.5h0M452 520.5h0M394 537.4h0M447.8 520.5h0M438.7 537.4h0M479.3 528.5h0M484.8 537.4h0M394 528.5h0M402.2 528.5h0M374.5 537.4h0M433.7 537.4h0M394 547.5h0M479.3 559.1h0M422.6 537.4h0M402.2 528.5h0M433.7 520.5h0M443.4 537.4h0M433.7 520.5h0M428.3 528.5h0M476.4 537.4h0M456 547.5h0M384.9 520.5h0M416.3 537.4h0M416.3 559.1h0M416.3 559.1h0M384.9 528.5h0M438.7 528.5h0M374.5 547.5h0M443.4 528.5h0M422.6 520.5h0M466.8 528.5h0M409.6 559.1h0M433.7 559.1h0M482.1 559.1h0M470.1 520.5h0M409.6 547.5h0M402.2 528.5h0M409.6 559.1h0M433.7 537.4h0M409.6 528.5h0M416.3 528.5h0M466.8 520.5h0M466.8 559.1h0M416.3 520.5h0M482.1 547.5h0M402.2 547.5h0M394 520.5h0M428.3 528.5h0M422.6 547.5h0M438.7 528.5h0M416.3 547.5h0M348.4 537.4h0M438.7 528.5h0M443.4 547.5h0M428.3 537.4h0M331.1 547.5h0M470.1 537.4h0M452 559.1h0M456 547.5h0M466.8 537.4h0M394 537.4h0M374.5 528.5h0M394 559.1h0M409.6 559.1h0M374.5 528.5h0M416.3 528.5h0M394 528.5h0M374.5 520.5h0M384.9 559.1h0M348.4 528.5h0M433.7 559.1h0M443.4 559.1h0M470.1 528.5h0M438.7 559.1h0M443.4 559.1h0M422.6 520.5h0M476.4 528.5h0M409.6 520.5h0M422.6 528.5h0M384.9 547.5h0M394 520.5h0M447.8 528.5h0M422.6 520.5h0M463.4 547.5h0M487.5 537.4h0M374.5 537.4h0M459.8 547.5h0M470.1 547.5h0M428.3 520.5h0M422.6 528.5h0M428.3 520.5h0M459.8 537.4h0M416.3 537.4h0M384.9 559.1h0M428.3 528.5h0M476.4 547.5h0M438.7 520.5h0M402.2 547.5h0M428.3 547.5h0M409.6 528.5h0M348.4 547.5h0M492.5 528.5h0M384.9 520.5h0M452 559.1h0M402.2 559.1h0M466.8 528.5h0M447.8 547.5h0M463.4 528.5h0M374.5 537.4h0M394 520.5h0M447.8 559.1h0M479.3 528.5h0M459.8 547.5h0M384.9 520.5h0M348.4 528.5h0M409.6 559.1h0M422.6 547.5h0M452 528.5h0M416.3 547.5h0M490 559.1h0M384.9 547.5h0M422.6 520.5h0M409.6 520.5h0M433.7 520.5h0M422.6 547.5h0M482.1 537.4h0M409.6 559.1h0M402.2 528.5h0M447.8 559.1h0M394 528.5h0M466.8 520.5h0M428.3 559.1h0M402.2 520.5h0M438.7 547.5h0M433.7 520.5h0M476.4 520.5h0M384.9 520.5h0M402.2 559.1h0M402.2 520.5h0M394 537.4h0M492.5 547.5h0M433.7 528.5h0M348.4 547.5h0M394 528.5h0M466.8 537.4h0M428.3 537.4h0M402.2 547.5h0M374.5 528.5h0M422.6 537.4h0M479.3 547.5h0M463.4 520.5h0M394 559.1h0M452 537.4h0M416.3 547.5h0M452 559.1h0M447.8 537.4h0M438.7 559.1h0M443.4 559.1h0M470.1 520.5h0M374.5 520.5h0M362.6 528.5h0M476.4 547.5h0M470.1 559.1h0M374.5 559.1h0M374.5 520.5h0M374.5 559.1h0M438.7 547.5h0M517.2 520.5h0M459.8 559.1h0M479.3 537.4h0M402.2 528.5h0M394 559.1h0M394 547.5h0M422.6 547.5h0M384.9 547.5h0M456 520.5h0M459.8 528.5h0M433.7 547.5h0M452 547.5h0M428.3 559.1h0M402.2 520.5h0M470.1 520.5h0M482.1 528.5h0M522.3 520.5h0M459.8 559.1h0M402.2 537.4h0M452 559.1h0M518.9 520.5h0M394 559.1h0M438.7 528.5h0M479.3 547.5h0M452 559.1h0M484.8 559.1h0M463.4 547.5h0M503.7 528.5h0M452 559.1h0M394 537.4h0M479.3 537.4h0M422.6 528.5h0M409.6 559.1h0M374.5 547.5h0M438.7 547.5h0M497.2 520.5h0M384.9 547.5h0M409.6 537.4h0M416.3 520.5h0M362.6 520.5h0M433.7 537.4h0M402.2 528.5h0M443.4 559.1h0M402.2 520.5h0M416.3 520.5h0M459.8 520.5h0M394 547.5h0M384.9 547.5h0M479.3 537.4h0M409.6 547.5h0M433.7 520.5h0M422.6 547.5h0M384.9 547.5h0M473.3 528.5h0M362.6 520.5h0M348.4 537.4h0M443.4 528.5h0M463.4 547.5h0M416.3 547.5h0M433.7 528.5h0M433.7 528.5h0M443.4 559.1h0M409.6 528.5h0M422.6 528.5h0M384.9 559.1h0M463.4 547.5h0M487.5 520.5h0M428.3 559.1h0M456 537.4h0M409.6 537.4h0M452 520.5h0M384.9 547.5h0M428.3 547.5h0M433.7 520.5h0M428.3 520.5h0M374.5 520.5h0M473.3 520.5h0M422.6 520.5h0M374.5 520.5h0M433.7 520.5h0M452 537.4h0M422.6 528.5h0M438.7 537.4h0M456 520.5h0M428.3 559.1h0M438.7 547.5h0M456 528.5h0M362.6 559.1h0M394 547.5h0M428.3 559.1h0M402.2 537.4h0M422.6 559.1h0M476.4 547.5h0M384.9 528.5h0M484.8 528.5h0M428.3 537.4h0M456 547.5h0M459.8 537.4h0M362.6 559.1h0M443.4 528.5h0M438.7 559.1h0M484.8 559.1h0M362.6 520.5h0M459.8 559.1h0M428.3 537.4h0M433.7 520.5h0M402.2 547.5h0M443.4 537.4h0M433.7 547.5h0M348.4 528.5h0M447.8 559.1h0M452 559.1h0M362.6 537.4h0M394 520.5h0M402.2 547.5h0M443.4 559.1h0M402.2 559.1h0M443.4 520.5h0M402.2 559.1h0M422.6 559.1h0M482.1 520.5h0M452 528.5h0M402.2 528.5h0M422.6 528.5h0M362.6 537.4h0M402.2 537.4h0M452 528.5h0M456 520.5h0M416.3 537.4h0M428.3 559.1h0M416.3 528.5h0M394 520.5h0M409.6 559.1h0M452 528.5h0M428.3 537.4h0M409.6 520.5h0M384.9 559.1h0M394 537.4h0M374.5 547.5h0M416.3 528.5h0M394 537.4h0M463.4 537.4h0M433.7 520.5h0M402.2 547.5h0M394 528.5h0M428.3 537.4h0M438.7 520.5h0M456 520.5h0M433.7 537.4h0M452 520.5h0M438.7 528.5h0M482.1 537.4h0M433.7 559.1h0M374.5 537.4h0M402.2 537.4h0M476.4 528.5h0M447.8 520.5h0M479.3 559.1h0M409.6 520.5h0M466.8 559.1h0M409.6 528.5h0M443.4 520.5h0M422.6 559.1h0M466.8 547.5h0M394 537.4h0M409.6 520.5h0M422.6 547.5h0M331.1 547.5h0M416.3 559.1h0M456 520.5h0M409.6 559.1h0M416.3 559.1h0M348.4 537.4h0M416.3 520.5h0M402.2 528.5h0M422.6 559.1h0M362.6 520.5h0M447.8 528.5h0M497.2 547.5h0M456 537.4h0M409.6 547.5h0M470.1 528.5h0M384.9 520.5h0M409.6 537.4h0M374.5 520.5h0M384.9 528.5h0M452 537.4h0M374.5 520.5h0M394 537.4h0M409.6 547.5h0M422.6 520.5h0M447.8 559.1h0M409.6 528.5h0M443.4 559.1h0M452 520.5h0M416.3 547.5h0M416.3 528.5h0M409.6 520.5h0M487.5 528.5h0M362.6 537.4h0M494.9 520.5h0M443.4 528.5h0M416.3 528.5h0M487.5 537.4h0M409.6 520.5h0M433.7 559.1h0M402.2 537.4h0M384.9 520.5h0M374.5 520.5h0M428.3 559.1h0M374.5 520.5h0M409.6 520.5h0M494.9 547.5h0M447.8 537.4h0M490 559.1h0M438.7 520.5h0M362.6 528.5h0M362.6 537.4h0M428.3 537.4h0M374.5 559.1h0M416.3 537.4h0M384.9 528.5h0M473.3 528.5h0M374.5 547.5h0M409.6 547.5h0M438.7 528.5h0M384.9 547.5h0M479.3 547.5h0M447.8 547.5h0M409.6 547.5h0M394 559.1h0M409.6 528.5h0M409.6 559.1h0M459.8 528.5h0M409.6 520.5h0M479.3 528.5h0M402.2 528.5h0M409.6 537.4h0M438.7 547.5h0M362.6 559.1h0M374.5 537.4h0M374.5 537.4h0M422.6 547.5h0M362.6 520.5h0M402.2 547.5h0M459.8 528.5h0M476.4 547.5h0M492.5 547.5h0M484.8 528.5h0M459.8 537.4h0M438.7 559.1h0M362.6 559.1h0M492.5 547.5h0M394 528.5h0M384.9 537.4h0M384.9 520.5h0M452 528.5h0M428.3 528.5h0M384.9 537.4h0M409.6 528.5h0M476.4 559.1h0M479.3 537.4h0M482.1 559.1h0M443.4 547.5h0M443.4 537.4h0M374.5 520.5h0M362.6 520.5h0M482.1 537.4h0M409.6 537.4h0M438.7 528.5h0M374.5 547.5h0M452 547.5h0M409.6 559.1h0M409.6 528.5h0M402.2 520.5h0M331.1 559.1h0M348.4 528.5h0M438.7 528.5h0M463.4 559.1h0M402.2 537.4h0M416.3 537.4h0M452 520.5h0M456 528.5h0M394 520.5h0M409.6 547.5h0M402.2 520.5h0M409.6 520.5h0M428.3 559.1h0M362.6 547.5h0M447.8 547.5h0M438.7 520.5h0M447.8 520.5h0M362.6 528.5h0M438.7 528.5h0M463.4 537.4h0M443.4 520.5h0M409.6 559.1h0M482.1 537.4h0M428.3 559.1h0M456 547.5h0M394 528.5h0M374.5 559.1h0M490 528.5h0M443.4 559.1h0M438.7 528.5h0M470.1 547.5h0M433.7 520.5h0M374.5 547.5h0M362.6 559.1h0M402.2 528.5h0M490 559.1h0M374.5 528.5h0M384.9 537.4h0M428.3 559.1h0M394 537.4h0M362.6 547.5h0M409.6 537.4h0M394 528.5h0M384.9 528.5h0M433.7 520.5h0M416.3 559.1h0M459.8 528.5h0M409.6 520.5h0M473.3 520.5h0M384.9 537.4h0M422.6 537.4h0M402.2 547.5h0M443.4 559.1h0M452 520.5h0M433.7 520.5h0M409.6 537.4h0M476.4 520.5h0M409.6 559.1h0M416.3 537.4h0M402.2 528.5h0M416.3 547.5h0M362.6 520.5h0M466.8 537.4h0M438.7 528.5h0M416.3 537.4h0M374.5 528.5h0M473.3 528.5h0M456 559.1h0M416.3 559.1h0M409.6 520.5h0M409.6 537.4h0M443.4 520.5h0M456 559.1h0M374.5 520.5h0M384.9 537.4h0M362.6 537.4h0M470.1 528.5h0M422.6 537.4h0M409.6 559.1h0M384.9 520.5h0M476.4 528.5h0M473.3 520.5h0M384.9 520.5h0M362.6 537.4h0M374.5 520.5h0M473.3 547.5h0M416.3 537.4h0M482.1 528.5h0M362.6 528.5h0M487.5 559.1h0M394 537.4h0M416.3 528.5h0M409.6 537.4h0M456 520.5h0M433.7 537.4h0M384.9 537.4h0M438.7 528.5h0M422.6 528.5h0M476.4 547.5h0M447.8 547.5h0M473.3 559.1h0M447.8 559.1h0M428.3 547.5h0M443.4 537.4h0M428.3 528.5h0M447.8 528.5h0M428.3 520.5h0M452 520.5h0M409.6 547.5h0M492.5 547.5h0M484.8 537.4h0M422.6 559.1h0M374.5 559.1h0M438.7 547.5h0M438.7 520.5h0M433.7 528.5h0M384.9 537.4h0M422.6 559.1h0M348.4 537.4h0M416.3 520.5h0M394 559.1h0M402.2 547.5h0M374.5 520.5h0M422.6 559.1h0M433.7 528.5h0M416.3 547.5h0M409.6 520.5h0M416.3 528.5h0M348.4 547.5h0M402.2 537.4h0M384.9 547.5h0M384.9 559.1h0M438.7 528.5h0M433.7 520.5h0M416.3 559.1h0M433.7 528.5h0M452 547.5h0M479.3 559.1h0M384.9 528.5h0M402.2 528.5h0M416.3 537.4h0M422.6 537.4h0M362.6 520.5h0M416.3 537.4h0M433.7 528.5h0M374.5 520.5h0M362.6 520.5h0M384.9 528.5h0M277.3 528.5h0M362.6 559.1h0M277.3 547.5h0M384.9 547.5h0M384.9 547.5h0M331.1 520.5h0M331.1 528.5h0M374.5 559.1h0M277.3 528.5h0M277.3 537.4h0M223.5 547.5h0M348.4 528.5h0M331.1 528.5h0M331.1 528.5h0M331.1 559.1h0M223.5 559.1h0M384.9 520.5h0M374.5 520.5h0M277.3 537.4h0M374.5 528.5h0M348.4 559.1h0M277.3 537.4h0M277.3 528.5h0M277.3 537.4h0M331.1 520.5h0M331.1 547.5h0M348.4 559.1h0M331.1 547.5h0M223.5 537.4h0M331.1 547.5h0M331.1 547.5h0M374.5 520.5h0M223.5 547.5h0M223.5 547.5h0M223.5 547.5h0M362.6 537.4h0M331.1 559.1h0M331.1 559.1h0M362.6 559.1h0M277.3 559.1h0M223.5 559.1h0M223.5 537.4h0M362.6 520.5h0M277.3 559.1h0M362.6 528.5h0M331.1 559.1h0M277.3 559.1h0M331.1 537.4h0M277.3 559.1h0M331.1 528.5h0M331.1 520.5h0M277.3 520.5h0M277.3 528.5h0M331.1 537.4h0M362.6 520.5h0M331.1 547.5h0M362.6 528.5h0M223.5 528.5h0M308.8 537.4h0M374.5 547.5h0M374.5 528.5h0M277.3 547.5h0M308.8 547.5h0M331.1 520.5h0M374.5 537.4h0M374.5 520.5h0M277.3 537.4h0M384.9 547.5h0M277.3 537.4h0M277.3 537.4h0M348.4 559.1h0M331.1 547.5h0M277.3 559.1h0M348.4 520.5h0M308.8 547.5h0M362.6 547.5h0M308.8 547.5h0M277.3 559.1h0M223.5 528.5h0M277.3 559.1h0M308.8 547.5h0M374.5 537.4h0M277.3 537.4h0M374.5 559.1h0M362.6 547.5h0M374.5 520.5h0M223.5 547.5h0M223.5 547.5h0M384.9 559.1h0M308.8 559.1h0M374.5 537.4h0M374.5 547.5h0M277.3 547.5h0M374.5 547.5h0M277.3 559.1h0M331.1 528.5h0M223.5 559.1h0M331.1 547.5h0M348.4 559.1h0M394 559.1h0M308.8 559.1h0M384.9 559.1h0M394 559.1h0M277.3 559.1h0M277.3 559.1h0M331.1 559.1h0M362.6 559.1h0M362.6 559.1h0M470.1 559.1h0M348.4 559.1h0M422.6 559.1h0M402.2 559.1h0M422.6 559.1h0M466.8 559.1h0M348.4 559.1h0M277.3 559.1h0M384.9 559.1h0M308.8 559.1h0M428.3 559.1h0M348.4 559.1h0M384.9 559.1h0M394 559.1h0M348.4 559.1h0M348.4 559.1h0M416.3 559.1h0M394 559.1h0M409.6 559.1h0M402.2 559.1h0M470.1 559.1h0M428.3 559.1h0M473.3 559.1h0M362.6 559.1h0M438.7 559.1h0M374.5 559.1h0M438.7 559.1h0M308.8 559.1h0" stroke="#6452ee"/><path d="M422.6 513.3h0M443.4 513.3h0M473.3 506.7h0M422.6 506.7h0M452 513.3h0M428.3 513.3h0M459.8 506.7h0M348.4 513.3h0M433.7 513.3h0M402.2 513.3h0M438.7 506.7h0M433.7 506.7h0M456 506.7h0M416.3 506.7h0M422.6 513.3h0M348.4 506.7h0M473.3 513.3h0M466.8 506.7h0M348.4 513.3h0M470.1 513.3h0M447.8 513.3h0M470.1 506.7h0M433.7 513.3h0M384.9 506.7h0M416.3 513.3h0M402.2 506.7h0M409.6 513.3h0M479.3 506.7h0M409.6 513.3h0M463.4 513.3h0M422.6 506.7h0M409.6 506.7h0M394 506.7h0M384.9 506.7h0M384.9 513.3h0M409.6 513.3h0M416.3 513.3h0M348.4 506.7h0M422.6 513.3h0M362.6 513.3h0M476.4 513.3h0M470.1 513.3h0M402.2 506.7h0M394 513.3h0M416.3 513.3h0M459.8 506.7h0M409.6 513.3h0M452 513.3h0M507.8 513.3h0M422.6 506.7h0M394 513.3h0M459.8 506.7h0M443.4 513.3h0M433.7 506.7h0M416.3 513.3h0M384.9 506.7h0M428.3 513.3h0M428.3 506.7h0M428.3 513.3h0M433.7 513.3h0M438.7 513.3h0M428.3 506.7h0M433.7 513.3h0M422.6 513.3h0M384.9 513.3h0M409.6 513.3h0M456 513.3h0M463.4 513.3h0M433.7 513.3h0M409.6 513.3h0M456 513.3h0M456 513.3h0M473.3 513.3h0M348.4 513.3h0M503.7 506.7h0M466.8 506.7h0M447.8 513.3h0M452 513.3h0M394 513.3h0M438.7 513.3h0M428.3 506.7h0M374.5 506.7h0M456 513.3h0M416.3 513.3h0M443.4 506.7h0M452 513.3h0M443.4 513.3h0M447.8 513.3h0M497.2 513.3h0M416.3 513.3h0M470.1 506.7h0M443.4 506.7h0M466.8 513.3h0M428.3 513.3h0M362.6 506.7h0M374.5 513.3h0M416.3 513.3h0M482.1 513.3h0M470.1 506.7h0M438.7 513.3h0M466.8 513.3h0M492.5 506.7h0M394 513.3h0M402.2 513.3h0M348.4 513.3h0M428.3 513.3h0M484.8 513.3h0M447.8 513.3h0M447.8 513.3h0M438.7 513.3h0M348.4 513.3h0M348.4 513.3h0M487.5 513.3h0M348.4 506.7h0M409.6 513.3h0M416.3 513.3h0M438.7 506.7h0M348.4 506.7h0M443.4 513.3h0M409.6 513.3h0M394 513.3h0M384.9 506.7h0M470.1 506.7h0M463.4 513.3h0M443.4 506.7h0M505.8 506.7h0M422.6 506.7h0M490 506.7h0M402.2 513.3h0M428.3 513.3h0M443.4 513.3h0M443.4 506.7h0M479.3 506.7h0M459.8 506.7h0M466.8 513.3h0M374.5 506.7h0M507.8 506.7h0M459.8 513.3h0M459.8 506.7h0M362.6 513.3h0M428.3 506.7h0M374.5 513.3h0M394 506.7h0M447.8 506.7h0M402.2 513.3h0M452 506.7h0M384.9 513.3h0M409.6 513.3h0M456 506.7h0M362.6 506.7h0M433.7 513.3h0M479.3 513.3h0M428.3 513.3h0M428.3 506.7h0M384.9 513.3h0M374.5 506.7h0M394 513.3h0M428.3 513.3h0M394 513.3h0M416.3 506.7h0M374.5 513.3h0M466.8 506.7h0M443.4 513.3h0M484.8 513.3h0M384.9 513.3h0M374.5 506.7h0M402.2 513.3h0M409.6 506.7h0M384.9 513.3h0M459.8 506.7h0M533.1 506.7h0M348.4 513.3h0M362.6 506.7h0M416.3 506.7h0M422.6 513.3h0M438.7 513.3h0M409.6 513.3h0M362.6 513.3h0M394 506.7h0M447.8 506.7h0M422.6 513.3h0M402.2 506.7h0M466.8 513.3h0M473.3 506.7h0M438.7 513.3h0M374.5 513.3h0M456 513.3h0M394 513.3h0M443.4 506.7h0M402.2 506.7h0M473.3 513.3h0M362.6 513.3h0M402.2 506.7h0M374.5 513.3h0M438.7 513.3h0M422.6 513.3h0M409.6 506.7h0M438.7 513.3h0M428.3 506.7h0M374.5 513.3h0M409.6 513.3h0M416.3 506.7h0M416.3 513.3h0M463.4 506.7h0M452 513.3h0M438.7 513.3h0M402.2 506.7h0M459.8 513.3h0M447.8 513.3h0M402.2 506.7h0M374.5 506.7h0M394 513.3h0M443.4 513.3h0M362.6 506.7h0M422.6 506.7h0M394 506.7h0M484.8 513.3h0M503.7 513.3h0M505.8 513.3h0M384.9 506.7h0M348.4 513.3h0M362.6 506.7h0M384.9 513.3h0M416.3 506.7h0M402.2 513.3h0M487.5 506.7h0M456 506.7h0M479.3 513.3h0M452 513.3h0M433.7 506.7h0M505.8 513.3h0M482.1 513.3h0M452 513.3h0M490 513.3h0M459.8 506.7h0M422.6 513.3h0M402.2 513.3h0M394 513.3h0M402.2 506.7h0M402.2 506.7h0M394 513.3h0M384.9 513.3h0M499.4 506.7h0M416.3 513.3h0M394 506.7h0M463.4 506.7h0M416.3 513.3h0M362.6 506.7h0M433.7 513.3h0M428.3 506.7h0M438.7 513.3h0M452 513.3h0M422.6 506.7h0M416.3 513.3h0M416.3 506.7h0M443.4 513.3h0M416.3 506.7h0M402.2 506.7h0M362.6 513.3h0M479.3 506.7h0M443.4 513.3h0M402.2 506.7h0M416.3 506.7h0M402.2 513.3h0M409.6 513.3h0M409.6 506.7h0M362.6 513.3h0M402.2 513.3h0M473.3 506.7h0M501.6 506.7h0M394 513.3h0M348.4 513.3h0M374.5 513.3h0M443.4 506.7h0M374.5 506.7h0M456 513.3h0M308.8 513.3h0M277.3 506.7h0M362.6 513.3h0M277.3 506.7h0M308.8 506.7h0M277.3 506.7h0M277.3 513.3h0M331.1 513.3h0M308.8 506.7h0M384.9 513.3h0M348.4 513.3h0M277.3 506.7h0M277.3 513.3h0M277.3 506.7h0M277.3 506.7h0M277.3 513.3h0M223.5 513.3h0M277.3 506.7h0M374.5 506.7h0M362.6 506.7h0" stroke="#6a59ec"/><path d="M447.8 472h0M409.6 480.4h0M394 480.4h0M394 472h0M422.6 480.4h0M470.1 476.1h0M428.3 476.1h0M452 476.1h0M438.7 476.1h0M452 472h0M459.8 472h0M402.2 476.1h0M374.5 480.4h0M433.7 476.1h0M416.3 480.4h0M452 480.4h0M409.6 480.4h0M433.7 472h0M374.5 480.4h0M409.6 476.1h0M463.4 476.1h0M503.7 480.4h0M466.8 472h0M438.7 472h0M422.6 480.4h0M459.8 480.4h0M428.3 472h0M484.8 480.4h0M374.5 480.4h0M463.4 480.4h0M394 480.4h0M447.8 472h0M501.6 472h0M438.7 472h0M452 476.1h0M438.7 476.1h0M447.8 480.4h0M438.7 476.1h0M384.9 476.1h0M402.2 480.4h0M422.6 472h0M428.3 476.1h0M466.8 480.4h0M438.7 480.4h0M362.6 476.1h0M362.6 480.4h0M409.6 476.1h0M422.6 480.4h0M394 480.4h0M433.7 480.4h0M416.3 472h0M470.1 476.1h0M456 476.1h0M456 480.4h0M402.2 472h0M452 480.4h0M409.6 480.4h0M497.2 472h0M452 472h0M476.4 476.1h0M463.4 480.4h0M402.2 476.1h0M409.6 472h0M492.5 472h0M428.3 476.1h0M402.2 472h0M433.7 480.4h0M505.8 480.4h0M362.6 480.4h0M428.3 476.1h0M487.5 476.1h0M433.7 476.1h0M459.8 476.1h0M438.7 480.4h0M499.4 476.1h0M479.3 472h0M433.7 480.4h0M362.6 472h0M394 476.1h0M438.7 472h0M428.3 480.4h0M428.3 476.1h0M384.9 480.4h0M394 480.4h0M428.3 472h0M428.3 480.4h0M438.7 476.1h0M416.3 480.4h0M374.5 476.1h0M520.6 480.4h0M433.7 476.1h0M422.6 472h0M331.1 472h0M402.2 472h0M409.6 476.1h0M433.7 476.1h0M331.1 476.1h0M507.8 480.4h0M447.8 480.4h0M374.5 476.1h0M402.2 480.4h0M374.5 480.4h0M402.2 480.4h0M443.4 476.1h0M362.6 476.1h0M517.2 472h0M543.8 480.4h0M348.4 480.4h0M374.5 476.1h0M394 472h0M428.3 480.4h0M463.4 472h0M470.1 480.4h0M422.6 480.4h0M402.2 472h0M331.1 476.1h0M515.4 472h0M447.8 472h0M470.1 472h0M394 480.4h0M443.4 472h0M409.6 476.1h0M416.3 472h0M456 476.1h0M515.4 472h0M433.7 476.1h0M511.7 476.1h0M362.6 476.1h0M459.8 480.4h0M463.4 480.4h0M463.4 472h0M511.7 480.4h0M428.3 476.1h0M394 472h0M476.4 472h0M374.5 472h0M433.7 476.1h0M482.1 480.4h0M492.5 480.4h0M362.6 476.1h0M476.4 480.4h0M433.7 476.1h0M374.5 480.4h0M409.6 476.1h0M402.2 472h0M433.7 480.4h0M416.3 476.1h0M463.4 476.1h0M479.3 480.4h0M416.3 480.4h0M409.6 480.4h0M459.8 472h0M362.6 472h0M422.6 480.4h0M459.8 476.1h0M374.5 472h0M456 480.4h0M348.4 472h0M394 472h0M525.5 472h0M384.9 480.4h0M443.4 472h0M416.3 472h0M470.1 476.1h0M447.8 476.1h0M473.3 480.4h0M348.4 480.4h0M348.4 476.1h0M384.9 472h0M482.1 472h0M515.4 472h0M428.3 472h0M473.3 480.4h0M494.9 480.4h0M409.6 476.1h0M394 472h0M409.6 472h0M490 472h0M503.7 476.1h0M384.9 480.4h0M422.6 472h0M422.6 476.1h0M459.8 480.4h0M452 480.4h0M503.7 480.4h0M452 480.4h0M348.4 476.1h0M422.6 476.1h0M428.3 476.1h0M523.9 476.1h0M422.6 480.4h0M394 476.1h0M433.7 472h0M466.8 480.4h0M459.8 480.4h0M402.2 480.4h0M443.4 472h0M470.1 480.4h0M487.5 480.4h0M497.2 480.4h0M348.4 480.4h0M422.6 476.1h0M416.3 480.4h0M402.2 472h0M428.3 472h0M470.1 480.4h0M447.8 476.1h0M394 476.1h0M384.9 472h0M447.8 476.1h0M374.5 476.1h0M476.4 480.4h0M428.3 472h0M422.6 480.4h0M422.6 476.1h0M374.5 472h0M452 476.1h0M416.3 480.4h0M416.3 472h0M438.7 476.1h0M463.4 480.4h0M422.6 476.1h0M513.6 480.4h0M374.5 480.4h0M428.3 480.4h0M482.1 476.1h0M438.7 476.1h0M433.7 472h0M348.4 472h0M443.4 476.1h0M394 476.1h0M362.6 472h0M402.2 476.1h0M520.6 480.4h0M384.9 480.4h0M428.3 480.4h0M422.6 480.4h0M428.3 480.4h0M422.6 472h0M433.7 480.4h0M384.9 476.1h0M492.5 480.4h0M438.7 476.1h0M422.6 476.1h0M470.1 476.1h0M428.3 476.1h0M443.4 476.1h0M416.3 476.1h0M374.5 480.4h0M416.3 472h0M547.5 480.4h0M384.9 476.1h0M509.8 476.1h0M362.6 480.4h0M402.2 476.1h0M463.4 472h0M466.8 480.4h0M452 480.4h0M473.3 476.1h0M476.4 480.4h0M470.1 472h0M463.4 472h0M402.2 480.4h0M473.3 472h0M422.6 480.4h0M456 476.1h0M428.3 480.4h0M479.3 476.1h0M384.9 480.4h0M308.8 476.1h0M308.8 472h0M223.5 480.4h0M331.1 476.1h0M308.8 480.4h0M348.4 472h0M277.3 480.4h0M277.3 476.1h0M348.4 480.4h0M362.6 472h0M277.3 472h0M308.8 472h0M362.6 480.4h0M223.5 472h0M348.4 480.4h0M348.4 480.4h0M223.5 472h0M374.5 476.1h0M308.8 476.1h0M362.6 476.1h0M362.6 480.4h0M362.6 480.4h0" stroke="#7b6ee5"/><path d="M348.4 589.7h0M428.3 572.9h0M362.6 589.7h0M452 589.7h0M409.6 589.7h0M443.4 572.9h0M374.5 572.9h0M362.6 589.7h0M362.6 572.9h0M416.3 572.9h0M463.4 589.7h0M438.7 589.7h0M459.8 572.9h0M456 589.7h0M374.5 572.9h0M422.6 572.9h0M459.8 589.7h0M422.6 572.9h0M384.9 572.9h0M438.7 572.9h0M394 589.7h0M409.6 572.9h0M362.6 572.9h0M463.4 572.9h0M459.8 572.9h0M416.3 572.9h0M428.3 572.9h0M402.2 572.9h0M438.7 589.7h0M422.6 572.9h0M402.2 589.7h0M433.7 572.9h0M384.9 572.9h0M438.7 589.7h0M402.2 572.9h0M374.5 572.9h0M447.8 589.7h0M374.5 572.9h0M416.3 589.7h0M402.2 572.9h0M459.8 589.7h0M422.6 589.7h0M402.2 572.9h0M409.6 572.9h0M438.7 589.7h0M416.3 572.9h0M422.6 572.9h0M374.5 589.7h0M473.3 589.7h0M394 589.7h0M422.6 572.9h0M348.4 572.9h0M459.8 572.9h0M409.6 572.9h0M362.6 572.9h0M394 572.9h0M416.3 572.9h0M438.7 572.9h0M476.4 572.9h0M466.8 572.9h0M384.9 589.7h0M416.3 572.9h0M394 572.9h0M482.1 572.9h0M473.3 572.9h0M428.3 572.9h0M384.9 572.9h0M456 572.9h0M394 589.7h0M470.1 572.9h0M443.4 572.9h0M466.8 572.9h0M484.8 572.9h0M452 589.7h0M463.4 572.9h0M459.8 572.9h0M466.8 572.9h0M422.6 572.9h0M422.6 589.7h0M409.6 572.9h0M428.3 572.9h0M438.7 572.9h0M459.8 572.9h0M394 589.7h0M384.9 572.9h0M422.6 572.9h0M452 572.9h0M473.3 572.9h0M487.5 572.9h0M438.7 572.9h0M416.3 572.9h0M416.3 589.7h0M433.7 589.7h0M362.6 589.7h0M438.7 589.7h0M476.4 572.9h0M459.8 572.9h0M374.5 572.9h0M374.5 589.7h0M394 572.9h0M466.8 572.9h0M456 572.9h0M482.1 589.7h0M384.9 572.9h0M487.5 589.7h0M384.9 589.7h0M402.2 589.7h0M422.6 572.9h0M492.5 572.9h0M384.9 589.7h0M422.6 572.9h0M394 589.7h0M490 572.9h0M428.3 572.9h0M374.5 572.9h0M394 589.7h0M409.6 572.9h0M433.7 572.9h0M438.7 572.9h0M447.8 589.7h0M362.6 572.9h0M402.2 589.7h0M422.6 589.7h0M428.3 572.9h0M438.7 589.7h0M511.7 572.9h0M428.3 572.9h0M456 589.7h0M374.5 589.7h0M362.6 572.9h0M409.6 589.7h0M482.1 589.7h0M433.7 589.7h0M416.3 572.9h0M374.5 589.7h0M484.8 589.7h0M463.4 572.9h0M438.7 572.9h0M384.9 572.9h0M402.2 589.7h0M422.6 572.9h0M416.3 572.9h0M409.6 589.7h0M402.2 572.9h0M459.8 589.7h0M362.6 589.7h0M438.7 589.7h0M409.6 572.9h0M409.6 572.9h0M438.7 589.7h0M394 572.9h0M484.8 589.7h0M394 572.9h0M473.3 572.9h0M476.4 589.7h0M433.7 572.9h0M447.8 572.9h0M492.5 589.7h0M456 572.9h0M402.2 572.9h0M422.6 572.9h0M476.4 589.7h0M492.5 589.7h0M443.4 589.7h0M428.3 572.9h0M473.3 589.7h0M438.7 572.9h0M433.7 572.9h0M394 589.7h0M422.6 572.9h0M402.2 589.7h0M463.4 589.7h0M433.7 572.9h0M416.3 572.9h0M438.7 589.7h0M473.3 572.9h0M466.8 589.7h0M428.3 589.7h0M416.3 572.9h0M428.3 589.7h0M416.3 589.7h0M416.3 589.7h0M402.2 589.7h0M409.6 589.7h0M479.3 589.7h0M394 589.7h0M428.3 572.9h0M409.6 572.9h0M362.6 572.9h0M422.6 589.7h0M422.6 572.9h0M409.6 589.7h0M394 572.9h0M433.7 589.7h0M479.3 589.7h0M374.5 572.9h0M482.1 572.9h0M409.6 572.9h0M416.3 589.7h0M422.6 589.7h0M447.8 572.9h0M456 572.9h0M452 589.7h0M362.6 572.9h0M384.9 572.9h0M348.4 572.9h0M402.2 572.9h0M433.7 589.7h0M433.7 572.9h0M463.4 589.7h0M473.3 589.7h0M456 589.7h0M438.7 589.7h0M384.9 572.9h0M433.7 572.9h0M394 589.7h0M362.6 589.7h0M428.3 589.7h0M394 572.9h0M473.3 589.7h0M456 589.7h0M447.8 572.9h0M476.4 589.7h0M416.3 572.9h0M374.5 589.7h0M443.4 572.9h0M447.8 572.9h0M362.6 589.7h0M374.5 589.7h0M409.6 589.7h0M422.6 572.9h0M422.6 589.7h0M402.2 572.9h0M433.7 572.9h0M409.6 572.9h0M416.3 589.7h0M422.6 589.7h0M394 572.9h0M470.1 572.9h0M384.9 589.7h0M452 572.9h0M428.3 589.7h0M428.3 572.9h0M362.6 572.9h0M473.3 572.9h0M503.7 589.7h0M456 572.9h0M447.8 572.9h0M394 589.7h0M456 589.7h0M362.6 611.5h0M223.5 642.1h0M277.3 642.1h0M277.3 572.9h0M223.5 611.5h0M277.3 589.7h0M223.5 611.5h0M331.1 611.5h0M362.6 642.1h0M308.8 642.1h0M308.8 642.1h0M348.4 642.1h0M331.1 642.1h0M348.4 572.9h0M277.3 642.1h0M331.1 642.1h0M348.4 589.7h0M223.5 642.1h0M223.5 642.1h0M374.5 611.5h0M374.5 589.7h0M348.4 589.7h0M308.8 642.1h0M223.5 589.7h0M308.8 572.9h0M223.5 572.9h0M277.3 642.1h0M277.3 642.1h0M308.8 589.7h0M348.4 611.5h0M308.8 611.5h0M331.1 572.9h0M308.8 611.5h0M348.4 642.1h0M308.8 572.9h0M223.5 642.1h0M362.6 611.5h0M348.4 611.5h0M374.5 572.9h0M223.5 642.1h0M308.8 642.1h0M277.3 642.1h0M348.4 642.1h0M348.4 642.1h0M277.3 642.1h0M277.3 572.9h0M331.1 589.7h0M277.3 611.5h0M223.5 642.1h0M331.1 642.1h0M362.6 611.5h0M223.5 589.7h0M277.3 642.1h0M277.3 589.7h0M362.6 642.1h0M308.8 572.9h0M277.3 611.5h0M308.8 572.9h0M277.3 642.1h0M331.1 642.1h0M331.1 611.5h0M384.9 572.9h0M384.9 642.1h0M348.4 642.1h0M331.1 572.9h0M384.9 642.1h0M331.1 589.7h0M384.9 572.9h0M308.8 642.1h0M331.1 642.1h0M308.8 611.5h0M331.1 589.7h0M277.3 611.5h0M374.5 642.1h0M331.1 611.5h0M374.5 642.1h0M374.5 642.1h0M223.5 642.1h0M374.5 642.1h0M374.5 611.5h0M374.5 589.7h0M308.8 642.1h0M223.5 642.1h0M308.8 642.1h0M308.8 611.5h0M362.6 572.9h0M308.8 642.1h0M277.3 642.1h0M384.9 572.9h0M223.5 611.5h0M277.3 642.1h0M348.4 642.1h0M223.5 642.1h0M374.5 611.5h0M223.5 611.5h0M277.3 611.5h0M277.3 642.1h0M331.1 611.5h0M308.8 642.1h0M223.5 642.1h0M277.3 589.7h0M331.1 572.9h0M331.1 642.1h0M308.8 589.7h0M223.5 589.7h0M331.1 589.7h0M331.1 611.5h0M331.1 589.7h0M223.5 642.1h0M223.5 642.1h0M277.3 642.1h0M348.4 642.1h0M331.1 611.5h0M277.3 589.7h0M348.4 642.1h0M362.6 642.1h0M308.8 611.5h0M331.1 642.1h0M277.3 611.5h0M362.6 589.7h0M362.6 642.1h0M331.1 611.5h0M374.5 572.9h0M223.5 642.1h0M308.8 572.9h0M223.5 572.9h0M348.4 642.1h0M308.8 611.5h0M223.5 642.1h0M308.8 642.1h0M308.8 642.1h0M308.8 642.1h0M277.3 572.9h0M223.5 572.9h0M277.3 611.5h0M384.9 642.1h0M223.5 611.5h0M308.8 642.1h0M348.4 642.1h0M277.3 642.1h0M223.5 572.9h0M223.5 589.7h0M277.3 611.5h0M348.4 642.1h0M223.5 642.1h0M348.4 589.7h0M331.1 589.7h0M331.1 642.1h0M374.5 572.9h0M384.9 642.1h0M348.4 642.1h0M331.1 611.5h0M331.1 642.1h0M308.8 642.1h0M223.5 589.7h0M374.5 642.1h0M348.4 589.7h0M277.3 572.9h0M308.8 611.5h0M308.8 611.5h0M223.5 642.1h0M331.1 642.1h0M308.8 611.5h0M348.4 589.7h0M308.8 572.9h0M277.3 642.1h0M348.4 642.1h0M308.8 611.5h0M223.5 642.1h0M348.4 572.9h0M277.3 642.1h0M277.3 611.5h0M374.5 611.5h0M362.6 589.7h0M308.8 572.9h0M384.9 611.5h0M308.8 642.1h0M348.4 642.1h0M384.9 611.5h0M348.4 642.1h0M277.3 611.5h0M374.5 589.7h0M223.5 611.5h0M277.3 572.9h0M362.6 611.5h0M362.6 589.7h0M277.3 572.9h0M452 572.9h0M428.3 611.5h0M308.8 589.7h0M428.3 589.7h0M473.3 572.9h0M308.8 611.5h0M459.8 589.7h0M331.1 642.1h0M331.1 572.9h0M308.8 642.1h0M384.9 611.5h0M422.6 572.9h0M362.6 589.7h0M384.9 572.9h0M308.8 572.9h0M331.1 572.9h0M277.3 611.5h0M308.8 589.7h0M374.5 642.1h0M374.5 589.7h0M384.9 642.1h0M402.2 611.5h0M331.1 642.1h0M384.9 589.7h0M374.5 642.1h0M348.4 642.1h0M308.8 611.5h0M473.3 589.7h0M308.8 642.1h0M362.6 642.1h0M374.5 611.5h0M428.3 572.9h0M452 589.7h0M331.1 642.1h0M308.8 611.5h0M422.6 572.9h0M348.4 611.5h0M331.1 572.9h0M433.7 589.7h0M308.8 572.9h0M348.4 642.1h0M394 642.1h0M422.6 611.5h0M428.3 589.7h0M374.5 611.5h0M308.8 589.7h0M362.6 572.9h0M308.8 572.9h0M348.4 611.5h0M331.1 611.5h0M402.2 572.9h0M416.3 572.9h0M348.4 642.1h0M308.8 572.9h0M452 572.9h0M384.9 611.5h0M416.3 589.7h0M308.8 642.1h0M459.8 611.5h0M409.6 589.7h0M384.9 611.5h0M473.3 611.5h0M452 642.1h0M362.6 642.1h0M331.1 611.5h0M402.2 589.7h0M331.1 611.5h0M459.8 611.5h0M394 589.7h0M362.6 611.5h0M438.7 589.7h0M277.3 572.9h0M428.3 589.7h0M308.8 642.1h0M428.3 572.9h0M374.5 611.5h0M308.8 611.5h0M277.3 642.1h0M374.5 642.1h0M452 589.7h0M374.5 611.5h0M479.3 611.5h0M308.8 589.7h0M277.3 589.7h0M308.8 572.9h0M348.4 611.5h0M416.3 589.7h0M384.9 611.5h0M479.3 611.5h0M308.8 572.9h0M308.8 611.5h0M456 642.1h0M308.8 611.5h0M374.5 589.7h0M308.8 611.5h0M463.4 589.7h0M308.8 572.9h0M308.8 589.7h0M277.3 589.7h0M443.4 572.9h0M428.3 572.9h0M374.5 642.1h0M331.1 572.9h0M331.1 589.7h0M422.6 611.5h0M422.6 589.7h0M456 611.5h0M348.4 589.7h0M456 611.5h0M348.4 642.1h0M470.1 642.1h0M402.2 642.1h0M362.6 611.5h0M308.8 589.7h0M443.4 611.5h0M384.9 572.9h0M348.4 642.1h0M443.4 611.5h0M348.4 642.1h0M277.3 611.5h0M331.1 589.7h0M402.2 589.7h0M308.8 589.7h0M374.5 642.1h0M348.4 642.1h0M362.6 642.1h0M470.1 642.1h0M463.4 589.7h0M482.1 572.9h0M331.1 589.7h0M470.1 589.7h0M331.1 611.5h0M409.6 611.5h0M466.8 642.1h0M452 572.9h0M331.1 572.9h0M308.8 642.1h0M456 572.9h0M331.1 589.7h0M416.3 611.5h0M277.3 611.5h0M348.4 572.9h0M331.1 589.7h0M331.1 589.7h0M308.8 642.1h0M416.3 572.9h0M374.5 572.9h0M348.4 642.1h0M394 611.5h0M402.2 642.1h0M402.2 589.7h0M466.8 589.7h0M374.5 572.9h0M362.6 642.1h0M394 572.9h0M438.7 572.9h0M473.3 589.7h0M394 572.9h0M422.6 589.7h0M331.1 572.9h0M428.3 589.7h0M394 611.5h0M277.3 572.9h0M452 642.1h0M384.9 589.7h0M362.6 589.7h0M348.4 611.5h0M428.3 589.7h0M331.1 572.9h0M463.4 642.1h0M409.6 589.7h0M277.3 572.9h0M277.3 611.5h0M308.8 642.1h0M308.8 572.9h0M348.4 572.9h0M482.1 642.1h0M416.3 589.7h0M428.3 572.9h0M394 611.5h0M362.6 611.5h0M348.4 589.7h0M277.3 642.1h0M402.2 572.9h0M308.8 611.5h0M374.5 589.7h0M463.4 572.9h0M428.3 572.9h0M384.9 642.1h0M308.8 572.9h0M402.2 572.9h0M463.4 642.1h0M308.8 642.1h0M447.8 572.9h0M463.4 589.7h0M277.3 642.1h0M394 589.7h0M374.5 589.7h0M374.5 642.1h0M308.8 589.7h0M362.6 611.5h0M473.3 642.1h0M409.6 611.5h0M384.9 611.5h0M402.2 589.7h0M447.8 572.9h0M438.7 611.5h0M402.2 642.1h0M422.6 572.9h0M409.6 611.5h0M277.3 611.5h0M348.4 611.5h0M394 611.5h0M374.5 611.5h0M374.5 642.1h0M422.6 611.5h0M452 642.1h0M456 611.5h0M384.9 611.5h0M374.5 611.5h0M277.3 642.1h0M374.5 589.7h0M409.6 589.7h0M308.8 611.5h0M443.4 572.9h0M348.4 589.7h0M452 572.9h0M409.6 611.5h0M331.1 611.5h0M308.8 589.7h0M479.3 642.1h0M476.4 589.7h0M384.9 642.1h0M331.1 589.7h0M348.4 642.1h0M308.8 572.9h0M308.8 589.7h0M331.1 589.7h0M308.8 589.7h0M348.4 611.5h0M459.8 642.1h0M473.3 572.9h0M331.1 642.1h0M459.8 572.9h0M384.9 572.9h0M402.2 589.7h0M476.4 572.9h0M308.8 611.5h0M331.1 589.7h0M308.8 642.1h0M470.1 589.7h0M466.8 642.1h0M348.4 572.9h0M394 589.7h0M331.1 572.9h0M374.5 589.7h0M308.8 642.1h0M447.8 611.5h0M456 572.9h0M463.4 642.1h0M509.8 642.1h0M547.5 642.1h0M501.6 589.7h0M518.9 572.9h0M558.6 572.9h0M494.9 611.5h0" stroke="#6351ef"/><path d="M510.8 396.6h0M512.4 400.1h0M521.4 400.4h0M456 404.6h0M530.1 404.3h0M451.5 406.1h0M500.5 399.1h0M481.7 405.5h0M496.7 404.6h0M527.9 404.9h0M475.4 400h0M448.6 396.7h0M511.1 397.4h0M436.6 396.3h0M461.8 402h0M419.1 405.6h0M438.4 400.8h0M479.7 397.5h0M545.4 398h0M505.4 401.6h0M487.4 400.3h0M525.2 406.2h0M417.8 396.9h0M525.1 402.7h0M433.5 406.3h0M503.5 398.5h0M431.5 400.8h0M425.4 404.9h0M497.1 397h0M510.9 396.6h0M505 396.8h0M453.6 403.7h0M452.2 404.9h0M497.5 395.5h0M470.8 402.6h0M446.5 398.2h0M487 395.6h0M461.3 397.8h0M522.7 403.9h0M497.7 401.2h0M527.8 397.4h0M447.2 400.9h0M568.3 402.3h0M474.2 396.4h0M462 404.3h0M429.1 403.4h0M548.1 400.9h0M490.1 402.7h0M505 401.2h0M522.1 403.1h0M467 405.5h0M462.2 398.4h0M536.3 397h0M442.5 395.7h0M445.4 402.2h0M439.4 402.9h0M511.3 397.1h0M493 403.9h0M471.2 402.7h0M519.4 397.2h0M479.1 399.3h0M533.1 397.5h0M531.8 399.5h0M458.2 403.3h0M420.5 402.9h0M508.8 405h0M544.2 402.4h0M485 404.4h0M509.4 396.9h0M455 405.5h0M516.9 395.7h0M483.6 401.9h0M454.6 399.3h0M441.3 397h0M526.1 406h0M542.1 404.2h0M493.6 399.6h0M457 406.2h0M489.9 397.2h0M431.2 400.3h0M419.8 405.7h0M465.6 404h0M450.2 396.2h0M491.1 397.9h0M466.1 398.9h0M531 399.7h0M437.4 400.7h0M438.9 402.4h0M505.2 396h0M407.6 403h0M530.7 405.8h0M472.1 401.3h0M469.5 403.4h0M545.6 403.1h0M494.3 401.5h0M428 400.5h0M483.9 396.9h0M478.4 398.4h0M424.8 406.1h0" stroke="#a69eda"/><path d="M473.3 460.9h0M456 464.4h0M525.5 464.4h0M438.7 460.9h0M438.7 464.4h0M402.2 460.9h0M470.1 464.4h0M533.1 460.9h0M433.7 464.4h0M402.2 468.1h0M463.4 468.1h0M374.5 464.4h0M494.9 464.4h0M394 468.1h0M542.5 468.1h0M473.3 468.1h0M394 464.4h0M482.1 468.1h0M433.7 468.1h0M463.4 464.4h0M416.3 464.4h0M394 468.1h0M518.9 464.4h0M447.8 464.4h0M433.7 468.1h0M463.4 468.1h0M533.1 464.4h0M497.2 468.1h0M384.9 468.1h0M422.6 464.4h0M476.4 468.1h0M459.8 468.1h0M535.9 464.4h0M394 468.1h0M428.3 460.9h0M443.4 464.4h0M470.1 464.4h0M433.7 464.4h0M492.5 460.9h0M384.9 468.1h0M557.5 468.1h0M463.4 468.1h0M484.8 468.1h0M422.6 460.9h0M482.1 468.1h0M501.6 468.1h0M422.6 468.1h0M416.3 464.4h0M443.4 464.4h0M466.8 468.1h0M459.8 468.1h0M384.9 460.9h0M476.4 468.1h0M452 464.4h0M374.5 468.1h0M456 468.1h0M384.9 468.1h0M362.6 464.4h0M511.7 468.1h0M443.4 464.4h0M484.8 460.9h0M374.5 464.4h0M487.5 468.1h0M473.3 464.4h0M374.5 468.1h0M487.5 468.1h0M443.4 468.1h0M384.9 468.1h0M416.3 464.4h0M470.1 464.4h0M433.7 460.9h0M520.6 460.9h0M507.8 468.1h0M501.6 468.1h0M456 460.9h0M470.1 464.4h0M466.8 468.1h0M535.9 468.1h0M384.9 460.9h0M509.8 460.9h0M438.7 464.4h0M487.5 468.1h0M466.8 460.9h0M443.4 460.9h0M374.5 460.9h0M511.7 468.1h0M384.9 464.4h0M422.6 464.4h0M428.3 464.4h0M384.9 468.1h0M505.8 460.9h0M479.3 460.9h0M438.7 468.1h0M428.3 468.1h0M473.3 468.1h0M476.4 460.9h0M394 464.4h0M470.1 468.1h0M459.8 460.9h0M402.2 464.4h0M443.4 468.1h0M374.5 468.1h0M530.1 460.9h0M416.3 468.1h0M494.9 468.1h0M409.6 464.4h0M422.6 468.1h0M394 468.1h0M452 460.9h0M452 460.9h0M479.3 464.4h0M416.3 468.1h0M409.6 468.1h0M482.1 460.9h0M394 468.1h0M409.6 468.1h0M394 460.9h0M374.5 468.1h0M422.6 468.1h0M490 464.4h0M466.8 460.9h0M484.8 468.1h0M443.4 468.1h0M456 460.9h0M394 464.4h0M394 468.1h0M384.9 468.1h0M422.6 468.1h0M362.6 464.4h0M394 468.1h0M490 464.4h0M394 468.1h0M452 468.1h0M409.6 460.9h0M433.7 468.1h0M438.7 460.9h0M409.6 464.4h0M499.4 468.1h0M394 468.1h0M433.7 460.9h0M470.1 468.1h0M428.3 460.9h0M503.7 460.9h0M470.1 460.9h0M511.7 464.4h0M384.9 468.1h0M384.9 464.4h0M402.2 464.4h0M394 460.9h0M433.7 460.9h0M513.6 468.1h0M443.4 464.4h0M473.3 468.1h0M494.9 460.9h0M416.3 464.4h0M479.3 468.1h0M507.8 464.4h0M422.6 464.4h0M384.9 460.9h0M443.4 468.1h0M443.4 468.1h0M384.9 460.9h0M422.6 464.4h0M452 468.1h0M515.4 460.9h0M447.8 460.9h0M384.9 468.1h0M433.7 464.4h0M402.2 468.1h0M447.8 464.4h0M422.6 460.9h0M520.6 460.9h0M433.7 468.1h0M459.8 468.1h0M362.6 468.1h0M438.7 464.4h0M447.8 464.4h0M470.1 464.4h0M422.6 468.1h0M490 468.1h0M374.5 468.1h0M456 464.4h0M501.6 468.1h0M497.2 460.9h0M223.5 464.4h0M277.3 468.1h0M308.8 468.1h0M348.4 468.1h0M331.1 460.9h0M348.4 468.1h0M331.1 468.1h0M308.8 464.4h0M348.4 464.4h0M223.5 460.9h0M331.1 468.1h0M331.1 460.9h0M374.5 460.9h0M331.1 468.1h0M223.5 460.9h0M308.8 464.4h0M348.4 468.1h0M362.6 464.4h0M223.5 460.9h0M331.1 464.4h0M374.5 460.9h0M331.1 460.9h0M308.8 460.9h0M331.1 468.1h0M277.3 468.1h0M348.4 460.9h0M223.5 468.1h0M331.1 460.9h0M331.1 468.1h0" stroke="#8175e3"/><path d="M406.8 423.6h0M430.9 425.3h0M456.3 419.8h0M444.2 426.9h0M510.8 419.7h0M399.3 425.5h0M491.8 422.2h0M485.9 417.7h0M475.4 418.1h0M422.8 419.8h0M458.6 425.6h0M397.3 422.9h0M492.8 418.4h0M469.4 421.1h0M362.2 423.6h0M463.6 419.8h0M367.5 419.5h0M443.2 426h0M531.8 422.3h0M410.4 424.6h0M481.9 422h0M468.9 417.9h0M397.9 420h0M516.9 424h0M546 420.9h0M407.5 421.7h0M419 420.3h0M432.4 420.9h0M474.1 422.7h0M381.4 422.9h0M438.8 422.8h0M479 422.5h0M470.8 427h0M426.4 419.1h0M436.3 427.8h0M426.1 419.5h0M536.4 427.7h0M454.2 424.3h0M509 420.8h0M512.9 427.7h0M430.6 425.3h0M499.4 423.4h0M442 424.4h0M392.1 425.5h0M440.8 417.9h0M400.7 426h0M476 424.7h0M357.6 424.7h0M471.3 424.9h0M489.7 425.5h0M484.6 427.3h0M500.7 424.6h0M417.3 419h0M494.4 420.9h0M488.6 420.9h0M478 426.9h0M343.7 422.6h0M418.1 426.6h0M367.5 427h0M465.9 420.8h0M437.9 421.7h0M520.3 427.2h0M399.9 427.9h0M482.7 425.4h0M481.4 421.7h0M532.7 424.4h0M490.1 424.9h0M421.2 426h0M456.8 423.1h0M467.1 423.1h0M454 418.9h0M475.6 419.6h0M404.3 419h0M387.7 425.3h0M428.2 421h0M329.7 427.5h0M518.9 422.4h0M444.1 424.9h0M477.9 427.5h0M478.7 420.6h0M460.1 427.4h0M436.2 424.3h0M371.9 420.2h0M422.3 420.7h0M487.4 427.3h0M485.5 419.1h0M443.2 424.2h0M440.6 419.5h0M525.7 422.8h0M511.6 417.3h0M459.2 427h0M492.8 422.4h0M517.6 420.4h0M356.1 427.9h0M427.4 417.4h0M412.7 424.2h0M384.3 424.3h0M459.9 424.7h0M420.1 421.3h0M518.7 418.9h0M459.5 422h0M378.6 418.8h0M507.5 420h0M477.9 420.8h0M423.5 417.3h0M403.1 427.5h0M469.4 423.7h0M390.3 424.7h0M475.4 426.1h0M438.9 422h0M464.5 421.9h0M376.2 424.7h0M435 423.8h0M516.1 419h0M489.3 419h0M476.4 424.8h0M421.5 419.3h0M399 420.5h0M411.6 426.3h0M485.3 423.7h0M526.1 426.4h0M427 423.2h0M522.7 418.2h0M493.8 423.7h0M399.1 426.2h0M456.6 420.4h0M459.4 423.2h0M479.8 427.6h0M405.4 424.4h0M424.6 423.2h0M458.9 423.7h0M391.7 426.8h0M494.8 419.6h0M467.5 422.4h0M384.4 426.9h0M443.1 424.3h0M536.4 418.9h0M536.6 423.4h0M494.3 420.6h0M423.5 419.6h0M411.3 421.7h0M449.8 420.6h0M444.6 421h0M462.7 422h0M423.8 422.9h0M417 422.8h0M482.3 419.2h0M488.8 421.9h0M449.7 424.4h0M364.3 423.6h0M441.6 422.8h0M466.5 418.3h0M548.8 424h0M456 420.5h0M508.6 417.7h0M446.9 421.8h0M496.9 424.8h0M405.5 421.7h0M502.6 418.2h0M474.5 423.5h0M496.8 426.6h0M223.5 421.6h0M277.3 428h0M277.3 428h0M223.5 421.6h0" stroke="#9a90dc"/><path d="M428.3 500.7h0M479.3 495.1h0M523.9 500.7h0M473.3 500.7h0M479.3 500.7h0M428.3 495.1h0M447.8 495.1h0M433.7 500.7h0M459.8 495.1h0M428.3 495.1h0M501.6 500.7h0M374.5 495.1h0M443.4 495.1h0M463.4 500.7h0M402.2 500.7h0M402.2 500.7h0M463.4 500.7h0M456 500.7h0M308.8 500.7h0M394 495.1h0M466.8 495.1h0M470.1 495.1h0M433.7 495.1h0M416.3 495.1h0M402.2 495.1h0M428.3 500.7h0M452 500.7h0M459.8 500.7h0M463.4 500.7h0M422.6 495.1h0M416.3 500.7h0M473.3 495.1h0M473.3 500.7h0M384.9 500.7h0M452 495.1h0M374.5 495.1h0M499.4 495.1h0M459.8 500.7h0M470.1 495.1h0M438.7 495.1h0M384.9 495.1h0M443.4 500.7h0M509.8 495.1h0M394 500.7h0M374.5 495.1h0M374.5 495.1h0M409.6 495.1h0M473.3 500.7h0M422.6 495.1h0M422.6 495.1h0M494.9 500.7h0M443.4 495.1h0M416.3 495.1h0M422.6 500.7h0M479.3 500.7h0M452 495.1h0M487.5 495.1h0M402.2 495.1h0M384.9 500.7h0M394 495.1h0M374.5 500.7h0M384.9 495.1h0M374.5 500.7h0M443.4 495.1h0M428.3 495.1h0M459.8 495.1h0M459.8 495.1h0M409.6 500.7h0M433.7 495.1h0M463.4 495.1h0M447.8 495.1h0M433.7 500.7h0M409.6 495.1h0M416.3 495.1h0M409.6 495.1h0M482.1 495.1h0M402.2 495.1h0M443.4 500.7h0M518.9 495.1h0M409.6 500.7h0M362.6 495.1h0M443.4 500.7h0M466.8 495.1h0M362.6 500.7h0M384.9 500.7h0M416.3 500.7h0M422.6 500.7h0M509.8 500.7h0M394 500.7h0M443.4 495.1h0M384.9 500.7h0M362.6 500.7h0M487.5 495.1h0M422.6 500.7h0M384.9 500.7h0M416.3 500.7h0M428.3 500.7h0M374.5 500.7h0M428.3 500.7h0M505.8 500.7h0M394 495.1h0M394 495.1h0M428.3 495.1h0M482.1 495.1h0M422.6 495.1h0M394 495.1h0M452 495.1h0M362.6 495.1h0M402.2 495.1h0M476.4 495.1h0M452 495.1h0M384.9 500.7h0M452 495.1h0M394 500.7h0M374.5 500.7h0M482.1 500.7h0M374.5 495.1h0M497.2 500.7h0M428.3 495.1h0M459.8 495.1h0M394 500.7h0M409.6 495.1h0M452 500.7h0M422.6 495.1h0M466.8 495.1h0M428.3 495.1h0M476.4 500.7h0M505.8 495.1h0M422.6 500.7h0M494.9 500.7h0M348.4 495.1h0M463.4 500.7h0M409.6 495.1h0M394 495.1h0M409.6 495.1h0M402.2 495.1h0M433.7 495.1h0M466.8 500.7h0M416.3 500.7h0M416.3 500.7h0M428.3 500.7h0M470.1 495.1h0M409.6 495.1h0M428.3 500.7h0M402.2 500.7h0M433.7 500.7h0M438.7 495.1h0M416.3 495.1h0M473.3 495.1h0M416.3 500.7h0M433.7 495.1h0M490 500.7h0M384.9 500.7h0M433.7 495.1h0M416.3 495.1h0M487.5 495.1h0M443.4 495.1h0M463.4 500.7h0M409.6 495.1h0M484.8 500.7h0M463.4 495.1h0M456 500.7h0M394 500.7h0M479.3 495.1h0M422.6 495.1h0M394 500.7h0M362.6 500.7h0M518.9 500.7h0M422.6 500.7h0M402.2 495.1h0M443.4 500.7h0M362.6 495.1h0M433.7 500.7h0M505.8 495.1h0M438.7 500.7h0M416.3 495.1h0M509.8 500.7h0M456 495.1h0M409.6 495.1h0M409.6 500.7h0M374.5 500.7h0M433.7 495.1h0M402.2 495.1h0M459.8 500.7h0M438.7 495.1h0M374.5 495.1h0M438.7 495.1h0M374.5 500.7h0M438.7 500.7h0M433.7 500.7h0M428.3 495.1h0M443.4 500.7h0M433.7 495.1h0M348.4 500.7h0M402.2 500.7h0M428.3 500.7h0M459.8 500.7h0M452 495.1h0M416.3 495.1h0M459.8 495.1h0M394 495.1h0M428.3 500.7h0M433.7 500.7h0M384.9 500.7h0M505.8 495.1h0M384.9 500.7h0M447.8 500.7h0M447.8 500.7h0M459.8 495.1h0M433.7 495.1h0M443.4 500.7h0M433.7 495.1h0M428.3 495.1h0M422.6 500.7h0M374.5 500.7h0M479.3 500.7h0M402.2 495.1h0M447.8 495.1h0M422.6 500.7h0M487.5 500.7h0M438.7 500.7h0M362.6 495.1h0M456 500.7h0M428.3 500.7h0M362.6 500.7h0M422.6 500.7h0M505.8 500.7h0M511.7 500.7h0M277.3 500.7h0M384.9 500.7h0M223.5 500.7h0M277.3 495.1h0M331.1 500.7h0M331.1 500.7h0M331.1 495.1h0M308.8 495.1h0M362.6 500.7h0M374.5 495.1h0M308.8 500.7h0M331.1 500.7h0M348.4 500.7h0M348.4 500.7h0M331.1 500.7h0M277.3 500.7h0M384.9 500.7h0M331.1 495.1h0M223.5 500.7h0M223.5 500.7h0M223.5 500.7h0M223.5 495.1h0M331.1 495.1h0M308.8 495.1h0" stroke="#6f60e9"/><path d="M499.8 409h0M408.3 413.1h0M465.6 408.5h0M459.3 410.1h0M447.8 408.8h0M508.5 406.6h0M463.3 415.5h0M446.4 415.3h0M497.8 417h0M490.8 406.9h0M481.1 417.1h0M539.9 415.1h0M513.3 409.8h0M485.1 416.7h0M416.2 410h0M420.3 413.2h0M452.2 410.6h0M429.9 410.9h0M419.6 416.6h0M468.7 410.3h0M460.4 417.1h0M420.3 407.1h0M487.9 409.1h0M471.7 407.9h0M498.2 408.1h0M435.9 409.2h0M464.6 416.6h0M430.5 408.7h0M547.1 415.1h0M555.1 409.4h0M509.4 412.4h0M448.1 410.9h0M518.9 408.8h0M528.5 410.8h0M463 411.9h0M400.9 413.1h0M454.7 412.3h0M519.6 412.5h0M489.6 406.6h0M395.2 415.2h0M478.4 408.5h0M467.8 408.2h0M466.8 413.5h0M505.7 407.8h0M519.9 410.9h0M517.7 416.3h0M497.8 406.9h0M525.3 410.8h0M471.3 410.2h0M490.4 412.2h0M438.3 409.4h0M452.7 407h0M483.4 411.7h0M381.3 414.7h0M409.7 414.5h0M445.7 413.4h0M527.4 411.3h0M438.2 416.8h0M484 410.5h0M515.4 411.9h0M534.9 417.1h0M436.4 417.1h0M438.7 409.4h0M450.9 406.7h0M493.5 416.8h0M495.2 406.4h0M474.4 409.4h0M532.1 407.6h0M552.8 413.4h0M535 410.6h0M469.7 412.1h0M424.7 416.9h0M527.8 417.1h0M414.5 414.2h0M453.7 411.8h0M512.2 412.9h0M499.9 409.6h0M463.1 412.5h0M491.2 408.2h0M516.5 407.7h0M538.5 408.2h0M384.7 416.3h0M437.2 407.1h0M447.2 415.7h0M474.6 411.8h0M472 411.1h0M491.1 410.9h0M457 416h0M536.3 414.6h0M474 407.9h0M404.3 415.4h0M421.3 409.5h0M417.6 408.9h0M463.8 412.8h0M453 407.8h0M500.3 408.9h0M452.7 410.3h0M497 408.4h0M518.3 414.9h0M489 415.8h0M407.3 417h0M550.1 411.9h0M459.3 410.9h0M462.1 408.1h0M511.8 407.7h0" stroke="#a097db"/><path d="M491.5 384.6h0M465.7 388.3h0M488 387.4h0M508 394.3h0M491.4 395.1h0M512.3 387.6h0M502.9 390.3h0M493.2 394.8h0M527.2 385.5h0M484.9 389.6h0M457.4 389.7h0M461 387.4h0M425.6 392h0M497.9 392h0M492.3 393.7h0M484.5 384.8h0M461 393.5h0M437.3 395.4h0M477.5 385.3h0M552.7 388.6h0M538 393.4h0M455.8 390.8h0M513 387.4h0M512.5 386.9h0M518.8 394.2h0M498.6 392.4h0M519.9 390.5h0M490.8 387.1h0M494.8 394.2h0M521.8 386.9h0M517.4 394.7h0M495.3 388h0M477.1 385.7h0M488.9 386.7h0M476.7 389.9h0M508.7 391.8h0M470.8 392.7h0M511.6 390.5h0M486.2 393.4h0M486.9 388.4h0M462.5 390.6h0M525.5 391.2h0M476.6 391.4h0M462 394.2h0M472.3 385.5h0M491.8 394.4h0M471.2 393.9h0M487.7 392.4h0M508.2 385.5h0M491.9 395.3h0M555.5 388.6h0M483.1 390.3h0M477.4 391.7h0M488.2 393.5h0M428.5 393h0M514.2 386h0M451.7 385.4h0M506.9 390.7h0M506.1 393.8h0M484.2 393.8h0M516.3 392.2h0M481.5 388.7h0M524.9 394.9h0M442.4 386.4h0M468.7 389.7h0M482.6 392h0M517.9 391.1h0M532.4 386.9h0M489.2 385.6h0M517.1 391.5h0M534.7 391.2h0M480.5 387.6h0M456.2 389.8h0M551.7 395h0M522.1 389.4h0M578 390.2h0M494 388.5h0M497 394.4h0M504.8 388.4h0" stroke="#ada5d9"/><path d="M475.3 437.9h0M449.9 432.8h0M424.7 436.7h0M403.9 435.2h0M485.5 435.9h0M391.1 433.8h0M447.9 436.4h0M402.9 429.7h0M413 436.8h0M447.9 435.4h0M478.8 431.7h0M401.4 436.4h0M367.6 431.1h0M496 435.3h0M459 436.1h0M399.8 435.3h0M347.1 433.9h0M380.5 435.5h0M372.3 430.7h0M446.5 437.1h0M434.9 433.8h0M469.3 434.6h0M405.9 432.4h0M409 434.3h0M438.1 430.1h0M429.4 435.8h0M431.7 429.6h0M405.2 432.4h0M456.8 429.3h0M466.7 437.2h0M472.2 429.5h0M536.5 429.1h0M438.7 436.7h0M528.5 431.5h0M417.1 428.5h0M425 435.5h0M467.8 435.4h0M504 429.3h0M402.6 431.9h0M505.8 432.7h0M444 437.1h0M488.4 435.3h0M476.7 438.6h0M405.1 438.3h0M451.6 438.6h0M473.8 436.4h0M458.6 428.5h0M434.2 433.9h0M369.8 431h0M490.9 431.9h0M461.4 433.3h0M446.2 431.4h0M373.9 432h0M375 433.8h0M482.8 437.9h0M498.7 436.2h0M449.1 432.6h0M511.5 430.3h0M542.4 429.7h0M467.3 436.5h0M415.7 435.9h0M495.7 434.2h0M454.3 436h0M450.9 437.5h0M499.8 429.3h0M418.4 436.1h0M529.4 432.9h0M428.8 437.4h0M559.4 428.9h0M418 429.7h0M446.9 428.2h0M364 431.6h0M453.1 431.3h0M495.4 431h0M500.7 434.3h0M516 431.1h0M442.8 436.9h0M473.3 428.9h0M482.4 428.3h0M473.5 438.3h0M454.3 436h0M482.4 437.6h0M466.3 431h0M479.1 431.5h0M389.2 434h0M485.4 430.4h0M388.9 435.7h0M366.2 431.2h0M395.1 429.3h0M449.9 432.9h0M442.4 433.5h0M377.9 434.5h0M399.2 429h0M459.1 428.6h0M387 433h0M398.2 432.6h0M400.8 436.7h0M451.2 438.8h0M480.5 429.3h0M433.8 428.2h0M507.7 430.1h0M468.3 437.6h0M476.7 431h0M433.8 438.9h0M504.3 436.2h0M399.9 431.1h0M468.1 429.8h0M396.3 435.9h0M403.8 437.4h0M404.3 433.8h0M469.8 434.4h0M344.1 432.5h0M433.7 433.9h0M426.3 429.6h0M441.4 428.8h0M519.2 437.5h0M440.2 430h0M398.1 434.5h0M538.9 430.9h0M497 429.1h0M399.7 436.5h0M409.5 428.2h0M477.4 438.9h0M414.1 438.9h0M443.7 431.3h0M433 431.5h0M407.6 438.2h0M459 428.7h0M451.3 432.2h0M392.8 433.1h0M395.5 438.6h0M462.3 430h0M529.6 437.7h0M472.1 429.3h0M457.3 437.9h0M467.7 431.6h0M389.9 435h0M379.3 438.6h0M513 429.8h0M367.8 437.3h0M479.6 434.1h0M415.1 430h0M456.2 433.6h0M500.7 437h0M486.2 437h0M277.3 437.5h0M223.5 430.3h0M277.3 437.5h0M223.5 437.5h0M308.8 435h0" stroke="#938ade"/><path d="M428.1 383.3h0M551.7 377.8h0M487.6 377.4h0M490.1 379.1h0M476.6 376.2h0M504.5 382h0M566.5 375.2h0M493.1 375.7h0M499.7 381.1h0M519 382.2h0M526.2 383h0M550.9 374.2h0M524.6 381.7h0M480.1 378.1h0M504 381.9h0M479.5 375.4h0M495.5 380h0M520.2 382.1h0M475.3 375.1h0M513.3 378.5h0M474.4 379.2h0M441.1 376.8h0M509.4 381.2h0M541.2 374.7h0M467.3 382.5h0M472.1 382.4h0M544.9 379.8h0M504.9 377.5h0M513.6 381.9h0M519.4 380.7h0M454.4 381.6h0M504.6 377.1h0M478.7 384.3h0M499.7 375.5h0M534 375.4h0M557.9 373.7h0M543.3 374.9h0M507.3 374.6h0M449.6 382.1h0M503.7 382.2h0M455.9 380.6h0M519.5 381.7h0M442.5 380.4h0M542.6 374.4h0M529.6 377.2h0M471.1 381.9h0M528 380h0M507.2 382.7h0M494.9 383.6h0M446.4 380.5h0M564.1 373.7h0M522.8 377.3h0M533 376.4h0M517.8 379h0M480.9 379.8h0M559.7 375.1h0M472.7 382.6h0M469.9 381.6h0M508.4 379.8h0M448.9 382.6h0M490.1 375.9h0M529.5 383h0" stroke="#b4add7"/><path d="M459.8 451.3h0M362.6 454.3h0M362.6 454.3h0M463.4 451.3h0M428.3 451.3h0M433.7 454.3h0M490 457.6h0M416.3 457.6h0M443.4 451.3h0M428.3 454.3h0M463.4 457.6h0M416.3 457.6h0M497.2 454.3h0M422.6 457.6h0M416.3 451.3h0M443.4 454.3h0M428.3 457.6h0M484.8 451.3h0M422.6 457.6h0M409.6 454.3h0M422.6 454.3h0M484.8 457.6h0M409.6 454.3h0M433.7 457.6h0M374.5 454.3h0M492.5 451.3h0M416.3 457.6h0M428.3 454.3h0M456 457.6h0M433.7 451.3h0M509.8 457.6h0M428.3 457.6h0M384.9 457.6h0M501.6 457.6h0M422.6 457.6h0M384.9 454.3h0M394 454.3h0M384.9 451.3h0M433.7 454.3h0M433.7 454.3h0M545 457.6h0M416.3 457.6h0M535.9 451.3h0M511.7 457.6h0M535.9 451.3h0M394 451.3h0M447.8 457.6h0M479.3 454.3h0M494.9 454.3h0M362.6 457.6h0M522.3 451.3h0M443.4 454.3h0M505.8 451.3h0M394 451.3h0M443.4 451.3h0M473.3 451.3h0M479.3 454.3h0M384.9 451.3h0M416.3 454.3h0M459.8 454.3h0M466.8 454.3h0M394 451.3h0M473.3 454.3h0M497.2 451.3h0M374.5 454.3h0M402.2 451.3h0M348.4 451.3h0M447.8 454.3h0M438.7 451.3h0M459.8 457.6h0M456 454.3h0M433.7 451.3h0M484.8 454.3h0M362.6 451.3h0M362.6 451.3h0M428.3 451.3h0M497.2 454.3h0M456 454.3h0M470.1 457.6h0M402.2 451.3h0M447.8 457.6h0M470.1 454.3h0M492.5 451.3h0M438.7 457.6h0M528.6 457.6h0M438.7 451.3h0M384.9 454.3h0M511.7 454.3h0M466.8 457.6h0M546.3 454.3h0M433.7 457.6h0M490 451.3h0M362.6 457.6h0M479.3 457.6h0M438.7 454.3h0M438.7 457.6h0M473.3 457.6h0M463.4 454.3h0M402.2 451.3h0M476.4 451.3h0M466.8 457.6h0M459.8 457.6h0M402.2 454.3h0M438.7 454.3h0M409.6 454.3h0M409.6 451.3h0M374.5 454.3h0M433.7 457.6h0M534.5 454.3h0M416.3 451.3h0M428.3 451.3h0M348.4 451.3h0M452 454.3h0M438.7 454.3h0M476.4 457.6h0M443.4 451.3h0M348.4 451.3h0M492.5 454.3h0M470.1 457.6h0M422.6 457.6h0M494.9 457.6h0M459.8 451.3h0M374.5 451.3h0M518.9 457.6h0M517.2 451.3h0M503.7 451.3h0M433.7 454.3h0M518.9 457.6h0M409.6 457.6h0M433.7 454.3h0M463.4 454.3h0M447.8 451.3h0M416.3 457.6h0M459.8 457.6h0M409.6 457.6h0M447.8 454.3h0M463.4 451.3h0M452 454.3h0M348.4 454.3h0M416.3 451.3h0M409.6 457.6h0M452 451.3h0M416.3 457.6h0M428.3 457.6h0M456 457.6h0M513.6 451.3h0M374.5 454.3h0M428.3 454.3h0M384.9 454.3h0M466.8 454.3h0M484.8 454.3h0M497.2 451.3h0M422.6 454.3h0M402.2 451.3h0M459.8 454.3h0M501.6 451.3h0M409.6 454.3h0M438.7 454.3h0M438.7 454.3h0M394 457.6h0M459.8 454.3h0M443.4 457.6h0M409.6 454.3h0M476.4 451.3h0M492.5 451.3h0M452 454.3h0M476.4 457.6h0M463.4 454.3h0M384.9 451.3h0M402.2 457.6h0M511.7 454.3h0M223.5 457.6h0M331.1 454.3h0M277.3 457.6h0M348.4 451.3h0M348.4 457.6h0M348.4 457.6h0M308.8 454.3h0M331.1 457.6h0M277.3 451.3h0M348.4 454.3h0M348.4 454.3h0M223.5 451.3h0M308.8 457.6h0" stroke="#877ce1"/><path d="M374.5 485h0M499.4 485h0M409.6 485h0M459.8 489.9h0M479.3 485h0M416.3 489.9h0M515.4 485h0M456 485h0M473.3 489.9h0M507.8 489.9h0M459.8 489.9h0M456 485h0M374.5 489.9h0M487.5 485h0M409.6 489.9h0M447.8 489.9h0M517.2 489.9h0M394 485h0M348.4 485h0M473.3 489.9h0M384.9 485h0M428.3 489.9h0M422.6 489.9h0M443.4 489.9h0M384.9 489.9h0M482.1 485h0M522.3 485h0M443.4 489.9h0M422.6 485h0M438.7 485h0M513.6 489.9h0M374.5 489.9h0M394 489.9h0M443.4 489.9h0M466.8 485h0M438.7 485h0M433.7 489.9h0M374.5 485h0M394 485h0M433.7 489.9h0M374.5 489.9h0M348.4 489.9h0M428.3 485h0M416.3 485h0M384.9 485h0M438.7 485h0M416.3 485h0M501.6 485h0M409.6 485h0M409.6 485h0M456 489.9h0M416.3 489.9h0M422.6 489.9h0M348.4 485h0M438.7 489.9h0M470.1 485h0M362.6 489.9h0M438.7 485h0M459.8 489.9h0M459.8 489.9h0M348.4 485h0M409.6 489.9h0M384.9 485h0M402.2 485h0M416.3 489.9h0M422.6 485h0M503.7 489.9h0M463.4 489.9h0M428.3 489.9h0M463.4 489.9h0M470.1 489.9h0M503.7 485h0M402.2 489.9h0M473.3 485h0M428.3 489.9h0M409.6 485h0M394 485h0M402.2 489.9h0M374.5 489.9h0M452 485h0M402.2 485h0M433.7 489.9h0M422.6 485h0M463.4 485h0M452 489.9h0M447.8 489.9h0M438.7 485h0M443.4 489.9h0M409.6 489.9h0M443.4 489.9h0M416.3 485h0M409.6 485h0M438.7 489.9h0M497.2 489.9h0M505.8 485h0M409.6 485h0M452 485h0M490 485h0M497.2 485h0M452 489.9h0M402.2 485h0M374.5 489.9h0M494.9 489.9h0M433.7 485h0M470.1 485h0M456 489.9h0M515.4 489.9h0M428.3 485h0M479.3 489.9h0M384.9 489.9h0M509.8 489.9h0M374.5 485h0M456 485h0M362.6 489.9h0M447.8 489.9h0M484.8 485h0M409.6 485h0M511.7 485h0M463.4 485h0M428.3 485h0M479.3 485h0M348.4 489.9h0M520.6 485h0M394 485h0M466.8 485h0M422.6 489.9h0M499.4 489.9h0M456 485h0M394 485h0M409.6 489.9h0M409.6 485h0M438.7 485h0M473.3 489.9h0M499.4 489.9h0M456 489.9h0M416.3 489.9h0M402.2 485h0M433.7 485h0M447.8 489.9h0M452 485h0M438.7 489.9h0M374.5 485h0M409.6 485h0M362.6 489.9h0M416.3 485h0M422.6 489.9h0M348.4 489.9h0M466.8 485h0M362.6 489.9h0M520.6 489.9h0M463.4 485h0M466.8 485h0M503.7 489.9h0M492.5 485h0M374.5 489.9h0M374.5 485h0M384.9 485h0M362.6 489.9h0M456 485h0M409.6 485h0M463.4 489.9h0M402.2 489.9h0M482.1 489.9h0M438.7 485h0M348.4 489.9h0M308.8 485h0M463.4 485h0M348.4 489.9h0M384.9 485h0M394 485h0M409.6 485h0M507.8 485h0M384.9 485h0M384.9 485h0M482.1 489.9h0M470.1 485h0M433.7 489.9h0M348.4 489.9h0M374.5 485h0M402.2 485h0M473.3 489.9h0M348.4 485h0M428.3 489.9h0M463.4 485h0M473.3 485h0M473.3 489.9h0M476.4 489.9h0M482.1 489.9h0M433.7 489.9h0M473.3 485h0M374.5 485h0M384.9 485h0M394 485h0M452 485h0M507.8 485h0M422.6 485h0M402.2 485h0M384.9 485h0M416.3 485h0M473.3 485h0M409.6 489.9h0M438.7 485h0M362.6 485h0M463.4 485h0M473.3 489.9h0M501.6 489.9h0M428.3 489.9h0M452 489.9h0M331.1 489.9h0M537.3 485h0M433.7 489.9h0M517.2 489.9h0M409.6 489.9h0M482.1 489.9h0M362.6 485h0M384.9 485h0M466.8 485h0M409.6 489.9h0M362.6 485h0M466.8 485h0M277.3 485h0M331.1 485h0M308.8 485h0M308.8 489.9h0M277.3 489.9h0M384.9 485h0M277.3 485h0M384.9 485h0M223.5 485h0M277.3 485h0M223.5 489.9h0M331.1 489.9h0M308.8 485h0M331.1 489.9h0M308.8 489.9h0M277.3 489.9h0M331.1 489.9h0M374.5 489.9h0M348.4 489.9h0M223.5 485h0" stroke="#7567e7"/><path d="M599.7 279.5h0M575.6 278.7h0M558.8 285.3h0M559.7 278.6h0M605.4 286.7h0M542.2 277.4h0M536.7 278.6h0M568.7 284.6h0M595.2 286.4h0M572.6 283.4h0M619 285.1h0M570.9 278.6h0M591.5 278.3h0M587 280.7h0M501.8 284.4h0M559.2 279.7h0M547.2 283.2h0M547.6 283h0M606.9 278.5h0M529.3 284.4h0M586.4 283.1h0M586.6 283.6h0" stroke="#d69ba5"/><path d="M549.4 321.3h0M568.1 329.4h0M588.7 322h0M513.7 325.4h0M550.7 328.7h0M544.8 321.4h0M528.7 330.2h0M562.8 325.1h0M543 326.4h0M554 321.8h0M540.1 320.1h0M525.2 329.8h0M574.1 323.1h0M559.7 328.1h0M533 325h0M556.4 326.3h0M583.2 326.6h0M541.6 327.9h0M569.3 321h0M581.8 323.4h0M506.2 320.8h0M490.5 329h0M563 323.1h0M602.5 330h0" stroke="#d0bbbf"/><path d="M530.7 335.8h0M553.1 335h0M561.9 337.6h0M540.4 339.7h0M602.2 334.1h0M589.8 334.1h0M564.8 335.1h0M508.4 336h0M530.6 340.1h0M535.7 340.5h0M549.3 332.9h0M497.1 333.8h0M520.1 334.6h0M567.7 339.5h0M586.1 339.4h0M576.2 334.1h0M556.3 334.7h0" stroke="#cfc4c8"/><path d="M506.9 364.6h0M467.8 373.2h0M490.6 372.7h0M446.7 367.5h0M559.1 369.5h0M452.4 373.3h0M550.3 373.2h0M507.1 371.7h0M555.9 367.3h0M459.1 371.5h0M444.1 368.3h0M526.2 371.4h0M515.7 367.3h0M540.3 367.8h0M418.1 362.8h0M569.5 369.8h0M535.2 363.7h0M481.4 371.1h0M514.4 364.2h0M455.9 362.8h0M489.3 364.6h0M530.3 366.3h0M498.3 370.8h0M553.7 367.2h0M535.1 373.3h0M451.7 364.1h0M515.4 370.6h0M542.4 368.5h0M558.5 373.7h0M532.9 367.4h0M492.8 367.8h0M495.6 370.7h0M483.8 373h0M484 366.2h0M454.8 364h0M431.4 373.2h0M537.1 370.8h0M478.2 370.8h0M532.3 368.3h0M455.2 367.9h0M477.7 363.3h0M560.4 367.6h0" stroke="#bdb8d5"/><path d="M603.7 313.9h0M544.9 316h0M561 318.4h0M556.3 317.9h0M526.9 316.1h0M525.6 316.5h0M548.1 315h0M591.9 310.7h0M576.4 312.1h0M596.3 313.8h0M523.6 310.7h0M518.4 310.2h0M491.1 318.7h0M512.9 315.3h0" stroke="#d1b4ba"/><path d="M567 348.3h0M539.5 350.1h0M562.7 341.9h0M492 350.9h0M539.9 349.1h0M523.2 342.5h0M471.8 348.3h0M542.2 342.7h0M570.6 346.1h0M541.6 343.2h0M548.5 350.8h0M555.1 347.5h0M489.8 350.8h0M581.3 348.3h0M549.8 341.4h0M553.3 347.7h0M487.4 348.1h0M560.9 349h0M582.9 349.1h0M554.5 347.5h0M471 347.1h0M553 349.3h0M524.9 346.7h0M503.3 351.9h0M561.2 341.6h0M554.9 343.9h0M564 342.9h0M523.3 350.2h0" stroke="#ceccd0"/><path d="M557 291.8h0M590.5 295.1h0M583.2 289.1h0M566.5 291.2h0M556 288.9h0M556.3 294.3h0M589.4 291.3h0M586 296.5h0M592.7 294.3h0M579.7 288.6h0M597.4 288.5h0M526.4 288.1h0M584.9 296.8h0M544.1 296.5h0M550.6 291.8h0M565.3 286.8h0M591.9 288.7h0" stroke="#d4a4ad"/><path d="M551.6 358.9h0M487.1 357.5h0M474.6 359.9h0M540.6 352.7h0M525.7 354.6h0M575.7 352.4h0M516.1 362.3h0M539.2 358.9h0M523.6 360.1h0M526.4 362.6h0M535.4 353.3h0M495 362.3h0M479.3 360h0M498.8 355.4h0M568.3 362.7h0M571.6 362.1h0M529.6 355.4h0M555.6 361.7h0M522.9 361.8h0M508.6 352h0M480.9 357.6h0M537.7 361.8h0M513.1 356.2h0M510.6 353.9h0M507 359.3h0M540 353h0M560 359.3h0M525.7 357.1h0M571 353.1h0M512.2 352h0M482.8 354.8h0M511.7 358.3h0M499.2 354.7h0M573.7 355.4h0M487.3 361.7h0M550.6 352.6h0" stroke="#c5c2d2"/><path d="M517.9 305.6h0M570.2 305.5h0M529.8 307.9h0M544.3 303.9h0M558.4 299.8h0M582.2 304.7h0M601.5 301.3h0M572.2 300.4h0M560.7 304h0M560 301.5h0M520.9 302h0M565.5 301.8h0M547.9 297.8h0M545.5 306.5h0M501.6 307.1h0" stroke="#d3acb4"/><path d="M384.9 694.5h0M223.5 694.5h0M277.3 694.5h0M384.9 694.5h0M362.6 694.5h0M308.8 694.5h0M277.3 694.5h0M223.5 694.5h0M384.9 694.5h0M348.4 694.5h0M331.1 694.5h0M308.8 694.5h0M308.8 694.5h0M331.1 694.5h0M308.8 694.5h0M277.3 694.5h0M331.1 694.5h0M308.8 694.5h0M362.6 694.5h0M374.5 694.5h0M308.8 694.5h0M277.3 694.5h0M308.8 694.5h0M308.8 694.5h0M384.9 694.5h0M308.8 694.5h0M308.8 694.5h0M308.8 694.5h0M331.1 694.5h0M362.6 694.5h0M277.3 694.5h0M277.3 694.5h0M277.3 694.5h0M277.3 694.5h0M374.5 694.5h0M331.1 694.5h0M362.6 694.5h0M223.5 694.5h0M308.8 694.5h0M223.5 694.5h0M331.1 694.5h0M374.5 694.5h0M223.5 694.5h0M362.6 694.5h0M223.5 694.5h0M308.8 694.5h0M384.9 694.5h0M384.9 694.5h0M223.5 694.5h0M223.5 694.5h0M362.6 694.5h0M331.1 694.5h0M362.6 694.5h0M223.5 694.5h0M331.1 694.5h0M308.8 694.5h0M277.3 694.5h0M348.4 694.5h0M308.8 694.5h0M348.4 694.5h0M384.9 694.5h0M402.2 694.5h0M459.8 694.5h0M484.8 694.5h0M479.3 694.5h0M277.3 694.5h0M362.6 694.5h0M362.6 694.5h0M331.1 694.5h0M409.6 694.5h0M308.8 694.5h0M277.3 694.5h0M402.2 694.5h0M331.1 694.5h0M308.8 694.5h0M331.1 694.5h0M348.4 694.5h0M428.3 694.5h0M479.3 694.5h0M416.3 694.5h0M362.6 694.5h0M308.8 694.5h0M277.3 694.5h0M277.3 694.5h0M459.8 694.5h0M331.1 694.5h0M308.8 694.5h0M497.2 694.5h0M384.9 694.5h0M331.1 694.5h0M428.3 694.5h0M409.6 694.5h0M277.3 694.5h0M308.8 694.5h0M394 694.5h0M308.8 694.5h0M428.3 694.5h0M308.8 694.5h0M409.6 694.5h0M402.2 694.5h0M507.8 694.5h0M503.7 694.5h0M394 694.5h0M362.6 694.5h0M428.3 694.5h0M452 694.5h0M308.8 694.5h0M331.1 694.5h0M422.6 694.5h0M428.3 694.5h0M422.6 694.5h0M456 694.5h0M484.8 694.5h0M505.8 694.5h0M362.6 694.5h0M484.8 694.5h0M331.1 694.5h0M374.5 694.5h0M348.4 694.5h0M482.1 694.5h0M492.5 694.5h0M473.3 694.5h0M479.3 694.5h0M277.3 694.5h0M479.3 694.5h0M308.8 694.5h0M452 694.5h0M277.3 694.5h0M308.8 694.5h0M487.5 694.5h0M459.8 694.5h0M362.6 694.5h0M473.3 694.5h0M331.1 694.5h0M463.4 694.5h0M394 694.5h0M394 694.5h0M438.7 694.5h0M331.1 694.5h0M362.6 694.5h0M402.2 694.5h0M438.7 694.5h0M362.6 694.5h0M277.3 694.5h0M362.6 694.5h0M308.8 694.5h0M308.8 694.5h0M507.8 694.5h0M409.6 694.5h0M494.9 694.5h0M348.4 694.5h0M466.8 694.5h0M402.2 694.5h0M308.8 694.5h0M277.3 694.5h0M501.6 694.5h0M277.3 694.5h0M348.4 694.5h0M277.3 694.5h0" stroke="#6250f0"/><path d="M656.3 223.4h0" stroke="#e27483"/><path d="M637.3 215.9h0M628.7 214.7h0" stroke="#e56e7f"/><path d="M718.1 138.8h0M731.8 143.6h0" stroke="#f04d66"/><path d="M769.3 112.1h0" stroke="#f2455f"/><path d="M720.6 162.7h0M718.9 161.4h0" stroke="#ed556c"/><path d="M650.4 208.4h0M676.1 210.5h0" stroke="#e7687a"/><path d="M713.6 173.5h0" stroke="#ec5a6f"/><path d="M591.9 265.6h0" stroke="#d9929d"/><path d="M596.4 253.2h0" stroke="#de808c"/></g><g fill="none" stroke-linecap="round" stroke-width="15.4"><path d="M784.7 79.6h0" stroke="#f3425d"/><path d="M754 137.1h0" stroke="#f04c65"/><path d="M701.8 139h0" stroke="#f04d65"/><path d="M721.8 157.2h0" stroke="#ee546b"/><path d="M707.1 173.2h0" stroke="#ec5a6f"/><path d="M711.1 197.9h0" stroke="#e86477"/><path d="M728.5 212.9h0" stroke="#e56c7d"/><path d="M672.3 236.1h0" stroke="#e17987"/><path d="M663 241.5h0" stroke="#e07c89"/><path d="M648.2 245.5h0" stroke="#df7e8b"/><path d="M625.5 257.6h0M561.2 257.6h0" stroke="#dc8793"/><path d="M634.8 272.3h0" stroke="#d8949e"/><path d="M654.9 270.9h0" stroke="#d9939d"/><path d="M668.3 265.6h0" stroke="#da8e99"/><path d="M675 275h0" stroke="#d896a0"/><path d="M712.5 277.1h0M712.6 276.9h0" stroke="#d798a2"/><path d="M683 290.5h0" stroke="#d5a2ac"/><path d="M695.6 303.1h0" stroke="#d3acb4"/><path d="M517.1 273.6h0" stroke="#d8959f"/><path d="M541.2 280.3h0" stroke="#d69aa5"/><path d="M519.8 295h0M605.4 295h0" stroke="#d4a6af"/><path d="M571.9 283h0" stroke="#d69da7"/><path d="M592 285.7h0" stroke="#d59fa8"/><path d="M621.5 309.8h0" stroke="#d2b1b9"/><path d="M642.9 329.8h0M691.1 329.8h0M415.9 330.2h0M691.3 330.2h0" stroke="#cfbfc3"/><path d="M642.9 348.6h0" stroke="#cccad0"/><path d="M658.9 383.4h0" stroke="#b1a9d8"/><path d="M614.8 336.5h0" stroke="#cfc4c8"/><path d="M604.1 343.2h0" stroke="#cec9cd"/><path d="M585.3 325.8h0" stroke="#d0bcc0"/><path d="M550.5 312.4h0M621.3 312.4h0" stroke="#d1b3b9"/><path d="M537.1 320.5h0M455.5 320h0" stroke="#d0b8bc"/><path d="M558.6 296.4h0" stroke="#d4a7b0"/><path d="M513.1 315.1h0" stroke="#d1b5ba"/><path d="M442.8 248h0" stroke="#de7f8c"/><path d="M373.8 281h0" stroke="#d69ba5"/><path d="M361.2 307.3h0" stroke="#d2afb7"/><path d="M224.2 332.7h0M393.1 332.7h0M644.1 331.7h0" stroke="#cfc1c5"/><path d="M347.5 350.4h0M426.1 350.4h0" stroke="#cbc8d1"/><path d="M306.9 391h0M591.6 391h0" stroke="#aca4d9"/><path d="M329.7 388.5h0M585.8 388.5h0M583.2 388.1h0" stroke="#aea6d8"/><path d="M658.3 384.9h0M597.3 385.3h0" stroke="#b0a8d8"/><path d="M608.6 408.8h0M608.5 409.3h0" stroke="#a299db"/><path d="M666.9 445.3h0" stroke="#8c82df"/><path d="M607.1 479.7h0M605.7 479.7h0" stroke="#796ce5"/><path d="M692.3 484.8h0" stroke="#7669e6"/><path d="M592.4 572.5h0M543.7 572.5h0M543.8 571.2h0M507.1 571.2h0M529.7 589.5h0M524 610.7h0M591.6 572.6h0M549.4 641.7h0M507.1 641.7h0" stroke="#6351ef"/><path d="M560.4 537h0M512.8 529h0M524 534.6h0M535.3 540.3h0M543.8 537.4h0M515.6 545.9h0M526.9 551.5h0M521.2 560h0M560.7 537.4h0" stroke="#6452ee"/><path d="M558.9 513.7h0" stroke="#6756ec"/><path d="M641.6 347.9h0M601 347.9h0" stroke="#cdcbd0"/><path d="M696.4 303.8h0" stroke="#d3adb5"/><path d="M573.1 403.7h0" stroke="#a59cda"/><path d="M580.7 418.9h0" stroke="#9c93dc"/><path d="M570.6 444.2h0" stroke="#8d83df"/><path d="M565.5 472.1h0" stroke="#7d71e4"/><path d="M550.3 464.5h0M563.5 464.2h0" stroke="#8276e2"/><path d="M552.2 455.7h0" stroke="#867ce1"/><path d="M574.7 469.8h0" stroke="#7f72e3"/><path d="M555 478.3h0" stroke="#7a6de5"/><path d="M546.6 481.1h0" stroke="#786be6"/><path d="M566.3 450.1h0" stroke="#8a7fe0"/><path d="M526.9 486.7h0" stroke="#7568e7"/><path d="M535.3 495.2h0" stroke="#7162e8"/><path d="M524 500.8h0" stroke="#6e5fea"/><path d="M540.9 506.5h0" stroke="#6b5beb"/><path d="M532.5 512.1h0M557.8 512.1h0" stroke="#6857ec"/><path d="M580.4 421.9h0" stroke="#9a91dc"/><path d="M569.1 405h0" stroke="#a49bda"/><path d="M574.7 430.4h0" stroke="#958cdd"/><path d="M555 433.2h0" stroke="#938ade"/><path d="M563.5 438.8h0" stroke="#9086de"/><path d="M222.4 512.7h0M222.4 559.6h0M222.4 573.5h0M222.4 611.5h0M222.4 642h0M222.4 690.2h0M276.4 559.6h0M276.4 588.7h0M276.4 611.5h0M276.4 642h0M307.3 532.9h0M307.3 559.6h0M307.3 573.5h0M307.3 588.7h0M307.3 642h0M330.1 573.5h0M330.1 588.7h0M330.1 611.5h0M330.1 642h0M330.1 690.2h0M346.6 500h0M346.6 527.9h0M346.6 559.6h0M346.6 611.5h0M346.6 642h0M361.8 507.6h0M361.8 515.2h0M361.8 536.8h0M361.8 559.6h0M361.8 611.5h0M361.8 690.2h0M373.7 415h0M373.7 512.7h0M373.7 520.3h0M373.7 588.7h0M373.7 642h0M384.6 488.6h0M384.6 611.5h0M393.5 448h0M393.5 484.8h0M401.1 483.5h0M401.1 505.1h0M401.1 527.9h0M401.1 611.5h0M415.6 467.5h0M421.4 520.3h0M437.9 450.5h0M437.9 489.3h0M475.9 520.3h0M498.7 447.2h0M537.3 364.3h0M815.5 73.7h0M764.1 90.3h0M752.6 105.8h0M768.7 119.2h0M737.9 109h0M732.5 117.6h0M719.2 121.1h0M727.7 128.3h0M739.2 133.1h0M711.1 139h0M720.5 143.8h0M703.1 151.8h0M712.5 159.9h0M696.4 163.9h0M684.4 171.9h0M695.1 177.3h0M673.7 174.6h0M663 178.6h0M681.7 189.3h0M668.3 189.3h0M657.6 192h0M646.9 192h0M684.4 200h0M657.6 205.4h0M642.9 202.7h0M630.8 209.4h0M646.9 217.4h0M660.3 216.1h0M650.9 224.1h0M608.1 242.8h0M609.4 256.2h0M626.8 237.5h0M622.8 241.5h0M585.3 262.9h0M571.9 268.3h0M577.3 291h0M588 293.7h0M597.4 301.7h0M581.3 313.8h0M505 335.2h0M511.7 343.2h0M537.1 363.3h0M671 181.3h0M689.7 167.9h0M705.8 146.5h0M724.5 135.8h0M732.5 125.1h0M745.9 111.7h0M636.2 205.4h0M654.9 197.3h0M650.7 183.7h0M698.2 147.8h0M701.8 146.6h0M728.3 124.6h0M656.1 184.9h0M689.2 171.1h0M724.9 120.7h0M642.2 195.8h0M704.5 147.5h0M714.1 131.9h0M710.7 145.7h0M698.6 151.6h0M665 184.9h0M683.1 163h0M715.7 139.7h0M736.3 112.9h0M673.2 170.9h0M738.2 111.5h0M734.3 121.3h0M650.8 189.2h0M741.4 107.8h0M661.9 181.2h0M685.1 156.6h0M697.7 152.1h0M699 153.9h0M737.8 112.7h0M733.8 126.5h0M643.1 193.7h0M735.7 127.7h0M693.4 150.8h0M713.6 138.4h0M699 156.5h0M662.6 186.2h0M749 110.8h0M634.6 202.5h0M639.6 192.6h0M660.3 181.1h0M623.9 200.8h0M703.5 151.5h0M665.4 177.8h0M736.2 123.1h0M748.1 107.4h0M664.4 182h0M628.1 209.2h0M645.1 187.3h0M644.1 196.6h0M629.4 207.9h0M742 110.2h0M733.9 116.2h0M689.9 159.2h0M701.5 141.5h0M699.2 144.9h0M738.8 110.9h0M713.3 136.4h0M650.8 183.9h0M694.1 164h0M694.1 157h0M695.9 151.2h0M623 205.8h0M628.3 202h0M605.4 237.5h0M606.7 248.2h0M608.9 260.2h0M612.1 252.2h0M622.8 236.1h0M630.8 233.5h0M618.8 244.2h0" stroke="#000"/></g></g>
<rect x="0" y="894.7" width="971" height="525.3" fill="#f0f0f0"/>
<rect x="0" y="910.9" width="971" height="2.8" fill="#d2d2d2"/>
<rect x="0" y="913.6" width="971" height="3.4" fill="#dadcdc"/>
<rect x="0" y="916.9" width="971" height="3" fill="#c0c2c2"/>
<rect x="0" y="919.8" width="971" height="3.1" fill="#9c9e9e"/>
<rect x="0" y="937" width="971" height="3" fill="#5e5e5e"/>
<rect x="0" y="1010.5" width="971" height="11.3" fill="#fff"/>
<rect x="0" y="1010.5" width="6.1" height="409.5" fill="#fff"/>
<rect x="0" y="944.2" width="1.6" height="475.8" fill="#d6d6d6"/>
<rect x="236.2" y="1009.8" width="734.8" height="1.1" fill="#d9d9d9"/>
<rect x="236.2" y="950.9" width="255.1" height="59.6" fill="#f0f0f0" stroke="#d9d9d9" stroke-width="1.2"/>
<text x="251.9" y="997.4" font-size="36" text-anchor="start" fill="#000" textLength="224.9" lengthAdjust="spacingAndGlyphs">Setup DataSet</text>
<rect x="491.3" y="950.9" width="222.3" height="59.6" fill="#f0f0f0" stroke="#d9d9d9" stroke-width="1.2"/>
<text x="509.8" y="997.4" font-size="36" text-anchor="start" fill="#000" textLength="189.3" lengthAdjust="spacingAndGlyphs">Sample Info</text>
<path d="M1 1022V944.6H236.2V1014.5" fill="#fff" stroke="#d9d9d9" stroke-width="1.2"/>
<rect x="1.6" y="1009" width="234" height="13" fill="#fff"/>
<text x="23.6" y="991.3" font-size="36" text-anchor="start" fill="#000" textLength="195.9" lengthAdjust="spacingAndGlyphs">Setup Series</text>
<rect x="968.8" y="1177.8" width="2" height="242.2" fill="#8a8a8a"/>
<g><path d="M39.5 1089.5L84 1091.5L84 1093.5L48 1093.2Z" fill="#c8c8c8" opacity=".8"/><path d="M42 1087.5L46 1076L56.5 1083.8Z" fill="#ecd870"/><path d="M42 1087.5L43.3 1083.6L46.2 1086Z" fill="#111"/><path d="M46 1076L70.5 1049.5L81 1057.5L56.5 1083.8Z" fill="#dc5c06"/><path d="M51.2 1080L75.8 1053.5L81 1057.5L56.5 1083.8Z" fill="#b84c04"/><path d="M70.5 1049.5L73.5 1046.2L84 1054.2L81 1057.5Z" fill="#f2dca0"/><path d="M70.5 1049.5L73.5 1046.2L77 1048.9L74 1052.2Z" fill="#e89040"/></g>
<defs><linearGradient id="fg" x1="0" x2="1" y1="0" y2="0"><stop offset="0" stop-color="#ffb4b4"/><stop offset=".6" stop-color="#ff6a64"/><stop offset="1" stop-color="#fb2a2a"/></linearGradient></defs>
<rect x="120.3" y="1049" width="2.8" height="45" fill="#a8a8a8"/>
<rect x="123.1" y="1049" width="2.9" height="45" fill="#484848"/>
<path d="M126 1047.5L134 1050L142 1055L152 1059L162 1058.5L161 1063L154 1069L146 1073L136 1075.5L126 1079Z" fill="url(#fg)"/>
<rect x="190.4" y="1053.3" width="36.3" height="36.3" fill="#fff" stroke="#333" stroke-width="2.8"/>
<path d="M194.7 1071.5L205.2 1080.4L223.3 1061.4" fill="none" stroke="#333" stroke-width="3.2"/>
<text x="239.9" y="1085.2" font-size="37" text-anchor="start" fill="#000" textLength="297.6" lengthAdjust="spacingAndGlyphs">Show Distributions</text>
<defs><linearGradient id="bg1" x1="0" x2="1" y1="0" y2="0"><stop offset="0" stop-color="#4a77aa"/><stop offset=".5" stop-color="#7e9fc4"/><stop offset="1" stop-color="#4a77aa"/></linearGradient><linearGradient id="bg2" x1="0" x2="0" y1="0" y2="1"><stop offset="0" stop-color="#4a77aa"/><stop offset=".5" stop-color="#7e9fc4"/><stop offset="1" stop-color="#4a77aa"/></linearGradient><linearGradient id="gl" x1="0" x2="1" y1="0" y2="0"><stop offset="0" stop-color="#6c6c6c"/><stop offset=".25" stop-color="#a0a0a0"/><stop offset="1" stop-color="#d2d2d2"/></linearGradient><linearGradient id="gr" x1="1" x2="0" y1="0" y2="0"><stop offset="0" stop-color="#6c6c6c"/><stop offset=".25" stop-color="#a0a0a0"/><stop offset="1" stop-color="#d2d2d2"/></linearGradient></defs>
<path d="M592.4 1048.6L612 1066.2L600.4 1066.2L600.4 1076.6L612 1076.6L592.4 1094.2L573 1076.6L582.4 1076.6L582.4 1066.2L573 1066.2Z" fill="url(#bg1)"/>
<path d="M645.2 1070.1L663.3 1051.8L663.3 1062L675 1062L675 1051.8L693 1070.1L675 1088.4L675 1078L663.3 1078L663.3 1088.4Z" fill="url(#bg2)"/>
<path d="M-5.9 -24L5.9 -24L5.9 -15L9 -15L9 -12L5.9 -12L2.8 -6.2L-2.8 -6.2L-5.9 -12L-9 -12L-9 -15L-5.9 -15Z" transform="translate(747 1070) rotate(0)" fill="#6a8db8"/>
<path d="M-5.9 -24L5.9 -24L5.9 -15L9 -15L9 -12L5.9 -12L2.8 -6.2L-2.8 -6.2L-5.9 -12L-9 -12L-9 -15L-5.9 -15Z" transform="translate(747 1070) rotate(90)" fill="#6a8db8"/>
<path d="M-5.9 -24L5.9 -24L5.9 -15L9 -15L9 -12L5.9 -12L2.8 -6.2L-2.8 -6.2L-5.9 -12L-9 -12L-9 -15L-5.9 -15Z" transform="translate(747 1070) rotate(180)" fill="#6a8db8"/>
<path d="M-5.9 -24L5.9 -24L5.9 -15L9 -15L9 -12L5.9 -12L2.8 -6.2L-2.8 -6.2L-5.9 -12L-9 -12L-9 -15L-5.9 -15Z" transform="translate(747 1070) rotate(270)" fill="#6a8db8"/>
<rect x="741.1" y="1064.1" width="11.8" height="11.8" fill="#9c98b4"/>
<rect x="743.8" y="1066.8" width="6.4" height="6.4" fill="#dedaff"/>
<path d="M803.8 1070L832.4 1050.6L833.4 1050.6L833.4 1062.6L841.4 1062.6L841.4 1077.4L833.4 1077.4L833.4 1089.4L832.4 1089.4Z" fill="url(#gl)" stroke="#9c9c9c" stroke-width="2.6" stroke-linejoin="miter"/>
<rect x="834.6" y="1064" width="5.4" height="12" fill="#e0e0e0"/>
<path d="M924.2 1070L895.6 1050.6L894.6 1050.6L894.6 1062.6L886.6 1062.6L886.6 1077.4L894.6 1077.4L894.6 1089.4L895.6 1089.4Z" fill="url(#gr)" stroke="#9c9c9c" stroke-width="2.6" stroke-linejoin="miter"/>
<rect x="888" y="1064" width="5.4" height="12" fill="#e0e0e0"/>
<rect x="21" y="1114.7" width="878.3" height="57.2" fill="#fff"/>
<rect x="21" y="1174.8" width="881.9" height="245.2" fill="#fff"/>
<rect x="200.4" y="1114.7" width="3" height="57.2" fill="#f0f0f0"/>
<rect x="317.4" y="1114.7" width="3" height="57.2" fill="#f0f0f0"/>
<rect x="362.4" y="1114.7" width="3" height="57.2" fill="#f0f0f0"/>
<rect x="407.1" y="1114.7" width="3" height="57.2" fill="#f0f0f0"/>
<rect x="452.3" y="1114.7" width="3" height="57.2" fill="#f0f0f0"/>
<rect x="497.3" y="1114.7" width="3" height="57.2" fill="#f0f0f0"/>
<path d="M547.4 1291.6V1175.1M568.4 1291.6V1175.1M577.4 1291.6V1175.1M601.4 1291.6V1175.1M604.4 1291.6V1175.1M607.4 1291.6V1175.1M610.4 1291.6V1175.1M616.4 1291.6V1175.1M622.4 1291.6V1175.1M625.4 1291.6V1175.1M631.4 1291.6V1175.1M634.4 1291.6V1175.1M637.4 1291.6V1196M640.4 1291.6V1205.2M643.4 1291.6V1217.1M646.4 1291.6V1175.1M652.4 1291.6V1253.1M655.4 1291.6V1211.3M658.4 1291.6V1258.4M661.4 1291.6V1208.4M664.4 1291.6V1217.1M667.4 1291.6V1241.2M670.4 1291.6V1261.8M673.4 1291.6V1261.8M676.4 1291.6V1271M679.4 1291.6V1243.9M682.4 1291.6V1271M685.4 1291.6V1273.9M688.4 1291.6V1238.2M691.4 1291.6V1249.9M694.4 1291.6V1261.8M697.4 1291.6V1261.8M700.4 1291.6V1280.1M703.4 1291.6V1261.8M706.4 1291.6V1273.9M709.4 1291.6V1285.9M712.4 1291.6V1271M715.4 1291.6V1273.9M718.4 1291.6V1285.9M721.4 1291.6V1285.9M724.4 1291.6V1273.9M727.4 1291.6V1280.1M730.4 1291.6V1283.1M733.4 1291.6V1283.1M736.4 1291.6V1273.9M739.4 1291.6V1280.1M742.4 1291.6V1264.8M745.4 1291.6V1280.1M748.4 1291.6V1261.8M751.4 1291.6V1280.1M754.4 1291.6V1280.1M757.4 1291.6V1271M760.4 1291.6V1280.1M766.4 1291.6V1280.1M769.4 1291.6V1285.9M772.4 1291.6V1273.9M775.4 1291.6V1283.1M796.4 1291.6V1283.1M811.4 1291.6V1285.9" stroke="#8c8ee4" stroke-width="3.1" fill="none"/><rect x="590.9" y="1174.8" width="2.9" height="116.8" fill="#747474"/><rect x="647.7" y="1174.8" width="2.9" height="116.8" fill="#747474"/><path d="M547.4 1291.6V1253.1M568.4 1291.6V1264.8M577.4 1291.6V1261.8M595.4 1291.6V1283.1M601.4 1291.6V1271M607.4 1291.6V1285.9M610.4 1291.6V1285.9M640.4 1291.6V1285.9M655.4 1291.6V1285.9M661.4 1291.6V1285.9M694.4 1291.6V1285.9M700.4 1291.6V1285.9M703.4 1291.6V1285.9M706.4 1291.6V1285.9M709.4 1291.6V1285.9M715.4 1291.6V1283.1M724.4 1291.6V1285.9M727.4 1291.6V1285.9M730.4 1291.6V1285.9M733.4 1291.6V1285.9M736.4 1291.6V1280.1M739.4 1291.6V1283.1M742.4 1291.6V1273.9M745.4 1291.6V1283.1M748.4 1291.6V1264.8M751.4 1291.6V1283.1M754.4 1291.6V1283.1M757.4 1291.6V1280.1M760.4 1291.6V1285.9M766.4 1291.6V1283.1M772.4 1291.6V1283.1M775.4 1291.6V1283.1M781.4 1291.6V1285.9M784.4 1291.6V1285.9M787.4 1291.6V1280.1M802.4 1291.6V1285.9M829.4 1291.6V1285.9" stroke="#000" stroke-width="3" fill="none"/><path d="M547.4 1411.8V1295.3M568.4 1411.8V1295.3M577.4 1411.8V1295.3M601.4 1411.8V1295.3M604.4 1411.8V1295.3M607.4 1411.8V1295.3M610.4 1411.8V1295.3M616.4 1411.8V1295.3M622.4 1411.8V1295.3M625.4 1411.8V1315.5M631.4 1411.8V1309.8M634.4 1411.8V1295.3M637.4 1411.8V1324.7M640.4 1411.8V1330.4M643.4 1411.8V1348.7M646.4 1411.8V1304M652.4 1411.8V1345.8M655.4 1411.8V1304M658.4 1411.8V1384.3M661.4 1411.8V1372.8M664.4 1411.8V1390.5M667.4 1411.8V1357.9M670.4 1411.8V1399.6M673.4 1411.8V1382M676.4 1411.8V1369.8M679.4 1411.8V1382M682.4 1411.8V1402.6M685.4 1411.8V1382M688.4 1411.8V1402.6M691.4 1411.8V1393.5M694.4 1411.8V1393.5M697.4 1411.8V1382M700.4 1411.8V1393.5M703.4 1411.8V1378.6M706.4 1411.8V1363.6M709.4 1411.8V1390.5M712.4 1411.8V1399.6M715.4 1411.8V1402.6M718.4 1411.8V1393.5M724.4 1411.8V1402.6M730.4 1411.8V1399.6M736.4 1411.8V1399.6M742.4 1411.8V1399.6M748.4 1411.8V1402.6M751.4 1411.8V1402.6M754.4 1411.8V1402.6M757.4 1411.8V1402.6M760.4 1411.8V1402.6M766.4 1411.8V1399.6M772.4 1411.8V1399.6M784.4 1411.8V1384.7M799.4 1411.8V1384.7M817.4 1411.8V1405.6M820.4 1411.8V1390.5M850.4 1411.8V1405.6" stroke="#8c8ee4" stroke-width="3.1" fill="none"/><rect x="590.9" y="1294.6" width="2.9" height="117.2" fill="#747474"/><rect x="647.7" y="1294.6" width="2.9" height="117.2" fill="#747474"/><path d="M547.4 1411.8V1369.8M568.4 1411.8V1393.5M577.4 1411.8V1390.5M595.4 1411.8V1399.6M601.4 1411.8V1399.6M604.4 1411.8V1399.6M607.4 1411.8V1402.6M610.4 1411.8V1405.6M616.4 1411.8V1402.6M631.4 1411.8V1405.6M640.4 1411.8V1402.6M661.4 1411.8V1405.6M688.4 1411.8V1405.6M700.4 1411.8V1405.6M718.4 1411.8V1405.6M724.4 1411.8V1405.6M730.4 1411.8V1402.6M742.4 1411.8V1405.6M751.4 1411.8V1405.6M754.4 1411.8V1405.6M760.4 1411.8V1405.6M769.4 1411.8V1405.6M772.4 1411.8V1402.6M775.4 1411.8V1405.6M778.4 1411.8V1399.6M784.4 1411.8V1390.5M787.4 1411.8V1399.6M790.4 1411.8V1402.6M793.4 1411.8V1405.6M796.4 1411.8V1402.6M799.4 1411.8V1390.5M802.4 1411.8V1402.6M805.4 1411.8V1399.6M811.4 1411.8V1393.5M814.4 1411.8V1405.6M820.4 1411.8V1393.5M826.4 1411.8V1399.6M835.4 1411.8V1405.6M844.4 1411.8V1405.6M853.4 1411.8V1405.6" stroke="#000" stroke-width="3" fill="none"/><path d="M547.4 1421V1414.8M568.4 1421V1414.8M577.4 1421V1414.8M601.4 1421V1414.8M604.4 1421V1414.8M607.4 1421V1414.8M610.4 1421V1414.8M616.4 1421V1414.8M622.4 1421V1414.8M625.4 1421V1414.8M646.4 1421V1414.8" stroke="#8c8ee4" stroke-width="3.1" fill="none"/><rect x="590.9" y="1414.8" width="2.9" height="6.2" fill="#747474"/><rect x="647.7" y="1414.8" width="2.9" height="6.2" fill="#747474"/>
<rect x="617.8" y="1174.8" width="3.1" height="245.2" fill="#f07a6c"/>
<rect x="201.2" y="1174.8" width="2.9" height="245.2" fill="#7a8795"/>
<rect x="318.2" y="1174.8" width="2.9" height="245.2" fill="#7a8795"/>
<rect x="363.2" y="1174.8" width="2.9" height="245.2" fill="#7a8795"/>
<rect x="408.2" y="1174.8" width="2.9" height="245.2" fill="#7a8795"/>
<rect x="453.2" y="1174.8" width="2.9" height="245.2" fill="#7a8795"/>
<rect x="498" y="1174.8" width="2.9" height="245.2" fill="#7a8795"/>
<rect x="900" y="1174.8" width="2.9" height="245.2" fill="#7a8795"/>
<rect x="21" y="1291.6" width="881.9" height="3" fill="#7a8795"/>
<rect x="21" y="1411.8" width="881.9" height="3" fill="#7a8795"/>
<path d="M19.5 1420V1113.4H955.5V1420" fill="none" stroke="#7a8795" stroke-width="2.9"/>
<text x="35.8" y="1160" font-size="36" text-anchor="start" fill="#000" textLength="88.2" lengthAdjust="spacingAndGlyphs">name</text>
<text x="218.8" y="1160" font-size="36" text-anchor="start" fill="#000" textLength="35.1" lengthAdjust="spacingAndGlyphs">ID</text>
<text x="336.3" y="1160" font-size="36" text-anchor="start" fill="#000" textLength="22.9" lengthAdjust="spacingAndGlyphs">...</text>
<text x="381.3" y="1160" font-size="36" text-anchor="start" fill="#000" textLength="22.9" lengthAdjust="spacingAndGlyphs">...</text>
<text x="426.1" y="1160" font-size="36" text-anchor="start" fill="#000" textLength="22.9" lengthAdjust="spacingAndGlyphs">...</text>
<text x="471.1" y="1160" font-size="36" text-anchor="start" fill="#000" textLength="22.9" lengthAdjust="spacingAndGlyphs">...</text>
<rect x="500.7" y="1147.7" width="402.2" height="3.2" fill="#000"/>
<rect x="500.7" y="1142.3" width="3" height="23.1" fill="#000"/>
<rect x="600.1" y="1142.3" width="3" height="23.1" fill="#000"/>
<rect x="702" y="1142.3" width="3" height="23.1" fill="#000"/>
<rect x="801.1" y="1142.3" width="3" height="23.1" fill="#000"/>
<text x="505.2" y="1141.7" font-size="24" text-anchor="start" fill="#2e2e2e" textLength="8.8" lengthAdjust="spacingAndGlyphs">1</text>
<text x="607.4" y="1141.7" font-size="24" text-anchor="start" fill="#2e2e2e" textLength="23.2" lengthAdjust="spacingAndGlyphs">10</text>
<text x="706.9" y="1141.7" font-size="24" text-anchor="start" fill="#2e2e2e" textLength="34.8" lengthAdjust="spacingAndGlyphs">100</text>
<text x="808.4" y="1141.7" font-size="24" text-anchor="start" fill="#2e2e2e" textLength="52.9" lengthAdjust="spacingAndGlyphs">1,000</text>
<text x="20.9" y="1247.3" font-size="36" text-anchor="start" fill="#000" textLength="175.6" lengthAdjust="spacingAndGlyphs">GSM5022...</text>
<text x="203.8" y="1247.3" font-size="36" text-anchor="start" fill="#000" textLength="55.5" lengthAdjust="spacingAndGlyphs">209</text>
<text x="320.2" y="1247.3" font-size="36" text-anchor="start" fill="#000" textLength="19.9" lengthAdjust="spacingAndGlyphs">0</text>
<text x="365.5" y="1247.3" font-size="36" text-anchor="start" fill="#000" textLength="19.9" lengthAdjust="spacingAndGlyphs">0</text>
<text x="410" y="1247.3" font-size="36" text-anchor="start" fill="#000" textLength="19.9" lengthAdjust="spacingAndGlyphs">0</text>
<text x="455.1" y="1247.3" font-size="36" text-anchor="start" fill="#000" textLength="19.9" lengthAdjust="spacingAndGlyphs">0</text>
<text x="20.9" y="1367.4" font-size="36" text-anchor="start" fill="#000" textLength="175.6" lengthAdjust="spacingAndGlyphs">GSM5022...</text>
<text x="203.8" y="1367.4" font-size="36" text-anchor="start" fill="#000" textLength="55.5" lengthAdjust="spacingAndGlyphs">210</text>
<text x="320.2" y="1367.4" font-size="36" text-anchor="start" fill="#000" textLength="19.9" lengthAdjust="spacingAndGlyphs">0</text>
<text x="365.5" y="1367.4" font-size="36" text-anchor="start" fill="#000" textLength="19.9" lengthAdjust="spacingAndGlyphs">0</text>
<text x="410" y="1367.4" font-size="36" text-anchor="start" fill="#000" textLength="19.9" lengthAdjust="spacingAndGlyphs">0</text>
<text x="455.1" y="1367.4" font-size="36" text-anchor="start" fill="#000" textLength="19.9" lengthAdjust="spacingAndGlyphs">0</text>
<path d="M917.7 1209.4V1202.3L928.4 1189.9L939.1 1202.3V1209.4L928.4 1198.7Z" fill="#606060"/>
<rect x="904.1" y="1226" width="48.8" height="11.5" fill="#cdcdcd"/>
<path d="M917.7 1383.5V1390.6L928.4 1402.9L939.1 1390.6V1383.5L928.4 1394.1Z" fill="#606060"/>
</g></g>
</svg></body></html>
